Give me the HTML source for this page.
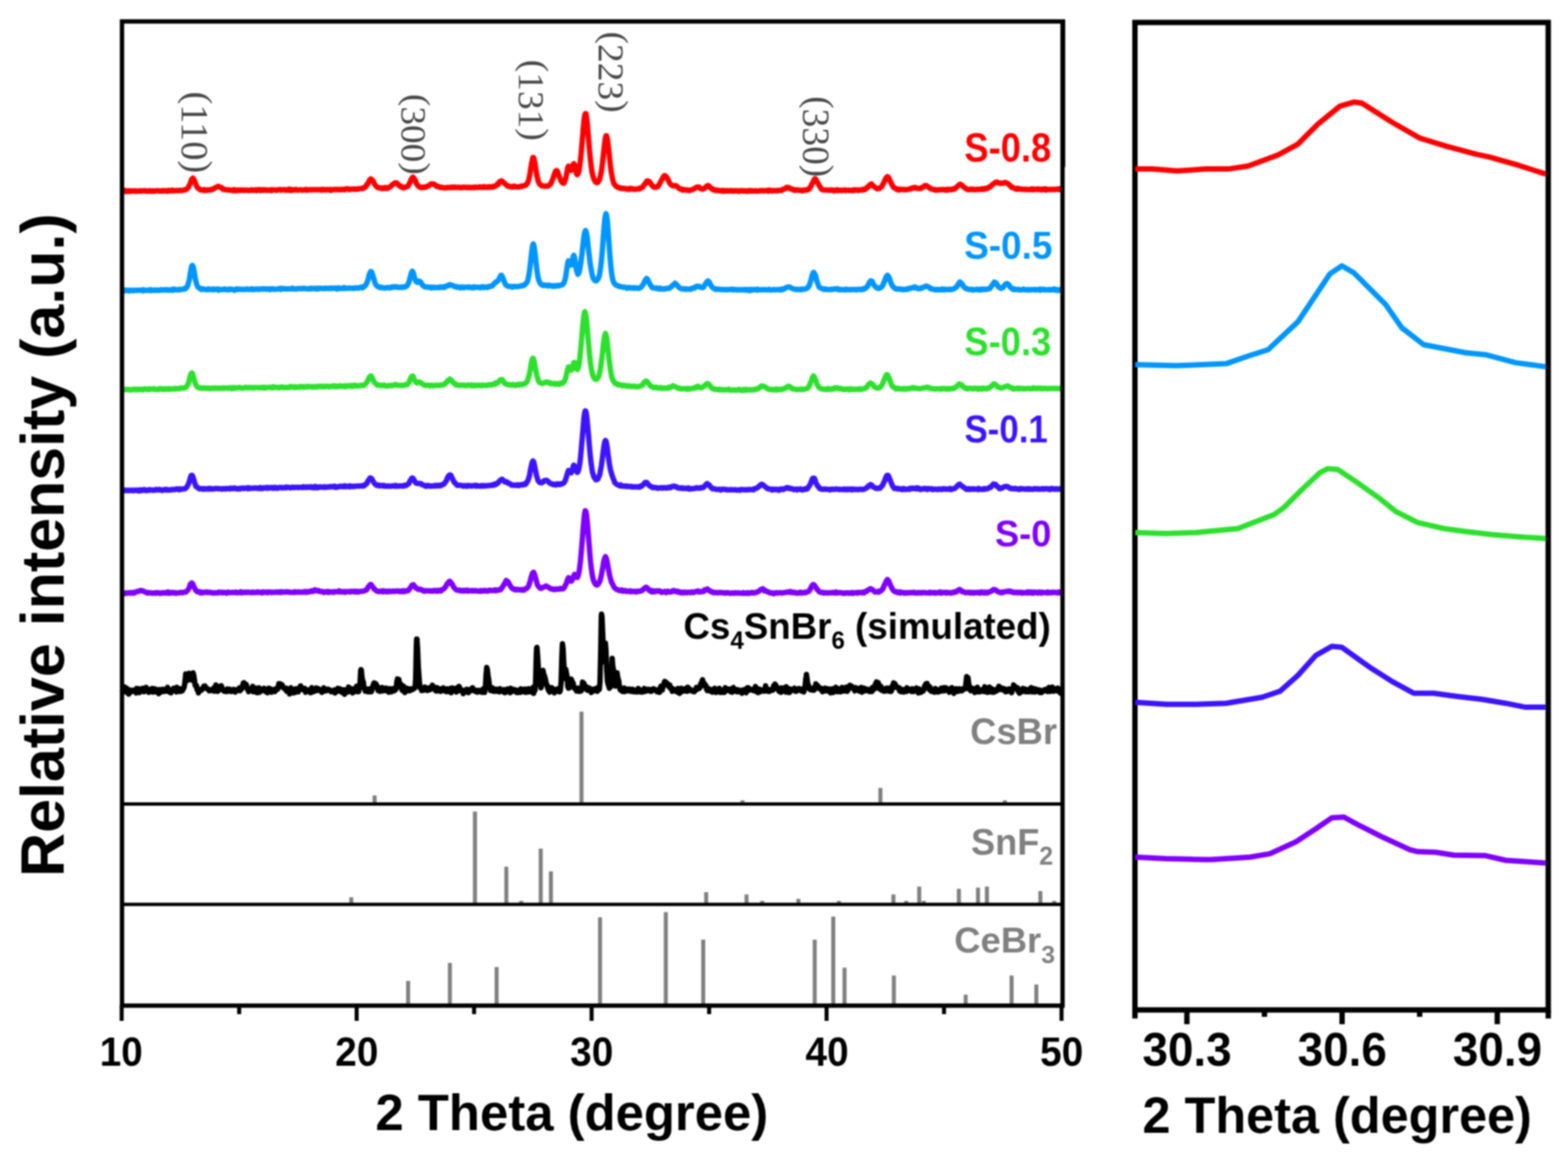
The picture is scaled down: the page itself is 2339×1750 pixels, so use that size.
<!DOCTYPE html>
<html><head><meta charset="utf-8"><style>
html,body{margin:0;padding:0;background:#fff;overflow:hidden;}
svg{display:block;filter:blur(0.8px);}
</style></head><body>
<svg width="2339" height="1750" viewBox="0 0 2339 1750">
<rect width="2339" height="1750" fill="#fff"/>
<g>
<path d="M182,285.7 L183,284.9 L184,285 L185,284.8 L186,285.4 L187,284.3 L188,285.7 L189,284.8 L190,285.2 L191,285 L192,285.6 L193,284.4 L194,285 L195,284.9 L196,285.4 L197,284.7 L198,285 L199,284.7 L200,285 L201,285.2 L202,284.6 L203,285.4 L204,285.3 L205,285.2 L206,285.3 L207,284.7 L208,284.9 L209,284.6 L210,284.8 L211,285.1 L212,284.7 L213,284.8 L214,284.7 L215,284.6 L216,284.6 L217,284.9 L218,284.5 L219,284.9 L220,285.4 L221,285.1 L222,284.8 L223,284.5 L224,284.5 L225,285.4 L226,284.8 L227,284.6 L228,284.8 L229,285.5 L230,284.8 L231,285 L232,284.8 L233,284.6 L234,284.3 L235,284.6 L236,284.6 L237,284.9 L238,285 L239,285 L240,284.7 L241,284.9 L242,284.4 L243,285 L244,284.8 L245,284.5 L246,284.7 L247,284.5 L248,284.9 L249,285.1 L250,285.3 L251,284 L252,284 L253,284.3 L254,284.5 L255,284.8 L256,284.5 L257,283.7 L258,284.3 L259,284.7 L260,284.4 L261,284.6 L262,284.2 L263,284.2 L264,284.3 L265,284.4 L266,284.2 L267,284.2 L268,283.9 L269,284.2 L270,284 L271,284.3 L272,284.3 L273,283.8 L274,283.5 L275,283.3 L276,283.4 L277,283 L278,282.4 L279,281.8 L280,280.5 L281,279.6 L282,277.3 L283,275.6 L284,272.8 L285,270.2 L286,267.3 L287,266.3 L287.6,266.3 L288,265.8 L289,267.2 L290,269.4 L291,271.5 L292,274.7 L293,277.2 L294,278.6 L295,280.5 L296,281 L297,282.1 L298,282.1 L299,283.4 L300,283.3 L301,283.3 L302,283.1 L303,283.9 L304,284.2 L305,282.9 L306,284 L307,284.2 L308,283.7 L309,283.2 L310,283.9 L311,283.5 L312,283.3 L313,282.9 L314,283.4 L315,283.3 L316,282.6 L317,282.6 L318,281.6 L319,281.8 L320,280.9 L321,280.1 L322,279.5 L323,279.2 L324,278.6 L325,278.2 L325.6,278 L326,278 L327,278.5 L328,278.8 L329,279.6 L330,279.9 L331,279.9 L332,281.7 L333,282.7 L334,282.5 L335,282.7 L336,282.9 L337,283.1 L338,283.3 L339,283 L340,283.3 L341,283.2 L342,283.7 L343,283.5 L344,283.8 L345,283.6 L346,284 L347,283.8 L348,284.5 L349,283 L350,283.5 L351,284 L352,284.6 L353,283.6 L354,283.7 L355,283.6 L356,284.2 L357,283.6 L358,283.9 L359,283.6 L360,283.2 L361,283.8 L362,283.9 L363,284.1 L364,283.6 L365,283.5 L366,283.9 L367,283.7 L368,283.7 L369,283.6 L370,284 L371,283.8 L372,284.3 L373,284 L374,283.8 L375,283 L376,283.8 L377,283.7 L378,283.9 L379,284 L380,283.4 L381,283.9 L382,283.4 L383,284.2 L384,283.1 L385,282.9 L386,283 L387,283.2 L388,283.1 L389,284.2 L390,283.4 L391,283 L392,283.9 L393,283.3 L394,283 L395,283.8 L396,283.7 L397,283.3 L398,283.9 L399,283.5 L400,284 L401,283.6 L402,284 L403,283.5 L404,283 L405,284.3 L406,283.2 L407,283.3 L408,283.2 L409,283.3 L410,283.5 L411,283.5 L412,283.6 L413,284 L414,283.3 L415,282.9 L416,282.9 L417,283.1 L418,282.8 L419,283.6 L420,283.2 L421,283.2 L422,283.3 L423,282.8 L424,283 L425,283.6 L426,283.5 L427,283.2 L428,283.9 L429,282.8 L430,283.2 L431,283.2 L432,282.3 L433,284 L434,283.4 L435,282.9 L436,284 L437,283.5 L438,283.4 L439,283 L440,283.3 L441,282.7 L442,283.5 L443,283.1 L444,283.3 L445,283.6 L446,283.3 L447,283.3 L448,283.3 L449,282.9 L450,283.5 L451,283.7 L452,283.4 L453,283.5 L454,282.9 L455,282.9 L456,282.6 L457,283.6 L458,283.1 L459,283.6 L460,282.9 L461,283 L462,283.2 L463,283.4 L464,283.1 L465,283.2 L466,283.1 L467,283.2 L468,282.7 L469,283.1 L470,283 L471,283 L472,283.2 L473,282.8 L474,283 L475,282.9 L476,283.2 L477,283.3 L478,282.7 L479,283.2 L480,283.7 L481,282.5 L482,282.7 L483,282.7 L484,282.9 L485,283.6 L486,283 L487,282.7 L488,283.2 L489,282.7 L490,283.3 L491,283.1 L492,283.4 L493,282.7 L494,284 L495,283.2 L496,283.1 L497,282.9 L498,282.6 L499,282.6 L500,282.8 L501,282.6 L502,282.9 L503,282.5 L504,283 L505,283.1 L506,282.5 L507,283.1 L508,282.6 L509,283.1 L510,282.8 L511,283 L512,282.3 L513,282.5 L514,283.1 L515,282.3 L516,281.8 L517,281.8 L518,281.6 L519,281.7 L520,282.3 L521,282.8 L522,282.2 L523,282.4 L524,282.2 L525,282.3 L526,282.2 L527,282.1 L528,282.3 L529,281.7 L530,282.4 L531,282.3 L532,281.9 L533,282.2 L534,281.6 L535,281.6 L536,281.8 L537,281.6 L538,281.4 L539,281.2 L540,281.1 L541,281.4 L542,280.1 L543,280.5 L544,279.7 L545,279.2 L546,278.1 L547,275.6 L548,275.1 L549,273.2 L550,271.2 L551,269.2 L552,268.2 L553,266.9 L553.4,267.6 L554,267.3 L555,268.8 L556,269.3 L557,270.8 L558,273.5 L559,275.3 L560,276.5 L561,277.2 L562,278.6 L563,279.6 L564,279.8 L565,280.2 L566,280.4 L567,280.3 L568,280.5 L569,280.2 L570,281.4 L571,280.6 L572,280.9 L573,280.4 L574,281 L575,280 L576,280.9 L577,280.4 L578,281 L579,279.5 L580,279.7 L581,279.3 L582,279.1 L583,277.8 L584,277.2 L585,275.5 L586,275 L587,274.6 L588,274 L589,273 L589.8,273.7 L590,273.6 L591,273.2 L592,273 L593,274 L594,275.2 L595,276.7 L596,277.3 L597,277.1 L598,278.3 L599,279.4 L600,279.1 L601,279.2 L602,280.3 L603,279.6 L604,279.3 L605,279.5 L606,279 L607,278.4 L608,278.2 L609,277 L610,275.4 L611,273.2 L612,271.3 L613,268.5 L614,266.5 L615,265 L616,264.3 L617,265.2 L618,266.4 L619,267.9 L620,270.5 L621,273.6 L622,274.9 L623,276.6 L624,277.3 L625,278.7 L626,278.7 L627,279.7 L628,279.2 L629,279.9 L630,279.8 L631,279.3 L632,279.9 L633,279.1 L634,279 L635,279.3 L636,278.5 L637,278.2 L638,277.7 L639,276.9 L640,277 L641,276.1 L642,275.2 L643,274.5 L644,274.3 L645,274.6 L646,274.5 L647,274.4 L648,275.4 L649,275.8 L650,276.5 L651,277.9 L652,277.7 L653,278.2 L654,278.1 L655,278.6 L656,279.5 L657,279.2 L658,279.8 L659,279.3 L660,279.5 L661,280 L662,280.3 L663,280 L664,280.2 L665,280.4 L666,280.2 L667,279.5 L668,279.8 L669,280 L670,279.7 L671,280 L672,279.3 L673,279.5 L674,280 L675,279 L676,279.4 L677,279.8 L678,279.1 L679,279.8 L680,279.4 L681,279.6 L682,279.6 L683,279.8 L684,279.5 L685,279.7 L686,279.4 L687,279.8 L688,280.2 L689,279.7 L690,279.7 L691,279.2 L692,279.8 L693,279.3 L694,279.2 L695,279.7 L696,279.6 L697,279.9 L698,280 L699,279.3 L700,279.5 L701,280 L702,279.8 L703,279.7 L704,279.9 L705,279.2 L706,279.6 L707,279.9 L708,280 L709,279.1 L710,279.3 L711,279.5 L712,279.3 L713,279.2 L714,279.6 L715,279.2 L716,278.7 L717,279.5 L718,279.2 L719,279.1 L720,278.7 L721,279.6 L722,278.5 L723,278.7 L724,279.1 L725,279.6 L726,279.6 L727,278.8 L728,279.1 L729,278.6 L730,279.4 L731,278.5 L732,278.9 L733,279.2 L734,278.7 L735,279.1 L736,278.1 L737,278.3 L738,278.1 L739,277.2 L740,277.1 L741,276 L742,274.4 L743,275.3 L744,273.1 L745,271.8 L746,270.4 L747,270.3 L748,269.8 L749,270.4 L750,271 L751,272.4 L752,272.8 L753,274 L754,274.9 L755,275.7 L756,276.4 L757,277.5 L758,277.8 L759,277.7 L760,277.8 L761,278.3 L762,278.8 L763,278.5 L764,279.2 L765,278.3 L766,278.6 L767,277.7 L768,278.4 L769,278.5 L770,278.7 L771,279.1 L772,278.5 L773,278.9 L774,278.6 L775,278.6 L776,278 L777,278.6 L778,277.6 L779,278 L780,277.4 L781,277.3 L782,276.8 L783,276.7 L784,276.5 L785,275.6 L786,274 L787,273.3 L788,270.3 L789,267.1 L790,262.4 L791,256.3 L792,249.6 L793,243.6 L794,239 L795,235.1 L795.5,235.3 L796,235.2 L797,238.7 L798,243.3 L799,250.7 L800,256.6 L801,262.5 L802,266.8 L803,270.5 L804,272.8 L805,274.8 L806,275.2 L807,276.1 L808,277.2 L809,277.2 L810,277.4 L811,277.5 L812,277.9 L813,277.5 L814,277.9 L815,277.4 L816,277.4 L817,277.7 L818,277.4 L819,276.2 L820,276.1 L821,274.4 L822,273.6 L823,270.7 L824,268.6 L825,265.9 L826,262.9 L827,260.2 L828,257.2 L829,255.3 L830,254.4 L831,254.6 L832,256.5 L833,259.8 L834,262.5 L835,265.4 L836,267.7 L837,270.3 L838,271 L839,272.9 L840,273.1 L841,273.4 L842,271.7 L843,269.3 L844,266.1 L845,260.4 L846,255.4 L847,249.8 L848,248 L849,248.8 L850,251.4 L851,253.1 L852,254.1 L853,252.4 L854,248.9 L855,245.5 L856,244.2 L857,245.9 L858,249.6 L859,254.2 L860,259.1 L861,260.7 L862,259.2 L863,257.4 L864,252.9 L865,246.5 L866,237.9 L867,227.6 L868,216.6 L869,204.4 L870,192.7 L871,181.8 L872,173.6 L873,169.7 L873.4,169.4 L874,169.5 L875,175 L876,183.8 L877,195.7 L878,207.4 L879,220 L880,230.6 L881,240.6 L882,248.5 L883,256.2 L884,260.8 L885,264.4 L886,267.6 L887,269 L888,271.1 L889,272 L890,272.4 L891,272.6 L892,271.4 L893,270.6 L894,268.4 L895,265.3 L896,260.5 L897,256.2 L898,248.8 L899,240.9 L900,231.4 L901,222.5 L902,213.6 L903,206.4 L904,202.4 L904.5,202.4 L905,202.9 L906,207.1 L907,215.3 L908,223.1 L909,232.9 L910,242 L911,250.9 L912,257.7 L913,262.8 L914,267.8 L915,271.6 L916,274.3 L917,275.2 L918,276.8 L919,277.8 L920,278.3 L921,279.2 L922,279.5 L923,279.9 L924,279.9 L925,280.9 L926,280.6 L927,281.2 L928,280.8 L929,281.3 L930,281 L931,281 L932,281.2 L933,281.6 L934,281.6 L935,282.3 L936,281.4 L937,281.5 L938,282.5 L939,282.2 L940,281.3 L941,282.2 L942,282.2 L943,281.3 L944,282 L945,282.1 L946,282.4 L947,282.5 L948,282.1 L949,282.5 L950,282 L951,281.7 L952,281.6 L953,281.9 L954,280.8 L955,281.5 L956,280.4 L957,280.1 L958,279.7 L959,279 L960,276.7 L961,275.8 L962,274.6 L963,272.9 L964,272.1 L965,270 L966,270.2 L966.5,270.1 L967,270.1 L968,271 L969,271.2 L970,273.4 L971,274.1 L972,276 L973,276.8 L974,278.2 L975,279 L976,278.7 L977,279.4 L978,279.4 L979,279.1 L980,278.4 L981,278.6 L982,276.9 L983,276.1 L984,273.8 L985,271.9 L986,270.4 L987,268.1 L988,267.2 L989,264.6 L990,263.5 L991,262.1 L991.8,261.9 L992,262 L993,262.7 L994,264 L995,265.2 L996,266.9 L997,268.8 L998,271.1 L999,273.1 L1000,274.6 L1001,275.6 L1002,276.3 L1003,277 L1004,277.4 L1005,277.1 L1006,277 L1007,276.8 L1008,277.3 L1009,277.3 L1010,278.2 L1011,279.2 L1012,280.1 L1013,281.2 L1014,281.6 L1015,282.1 L1016,281.8 L1017,282.9 L1018,283.7 L1019,282.7 L1020,282.8 L1021,283.1 L1022,283.6 L1023,283.5 L1024,283.2 L1025,283.4 L1026,283.8 L1027,283.7 L1028,284.3 L1029,283.8 L1030,283.5 L1031,283.5 L1032,283 L1033,282.5 L1034,282.6 L1035,282.2 L1036,281 L1037,280.6 L1038,280 L1039,279.6 L1040,279 L1040.7,279.2 L1041,279 L1042,279.7 L1043,279.2 L1044,281 L1045,281.5 L1046,281.5 L1047,282.1 L1048,282.1 L1049,281.5 L1050,281.4 L1051,280.9 L1052,279.9 L1053,279.2 L1054,277.9 L1055,277.3 L1056,276.7 L1057,277.2 L1058,277.9 L1059,279.6 L1060,280.2 L1061,280.8 L1062,282.1 L1063,282.6 L1064,282.1 L1065,283.7 L1066,283.2 L1067,284.1 L1068,283.7 L1069,283.6 L1070,284.4 L1071,283.7 L1072,284.1 L1073,284.4 L1074,284.6 L1075,284.6 L1076,284.4 L1077,284.1 L1078,285.1 L1079,284.3 L1080,285.1 L1081,284.4 L1082,285 L1083,284.9 L1084,284.2 L1085,284.7 L1086,284.9 L1087,284.9 L1088,284.6 L1089,284.8 L1090,284.5 L1091,284.3 L1092,285 L1093,284.5 L1094,285.2 L1095,285 L1096,284.4 L1097,284.7 L1098,284.7 L1099,284.5 L1100,285 L1101,284.6 L1102,285.4 L1103,285.1 L1104,284.5 L1105,284.8 L1106,284.7 L1107,284.2 L1108,285.1 L1109,285.1 L1110,285.1 L1111,284.6 L1112,285.1 L1113,284.7 L1114,285.1 L1115,285.4 L1116,284.8 L1117,284.2 L1118,284.6 L1119,285 L1120,285.2 L1121,284.3 L1122,284.7 L1123,284.8 L1124,284.9 L1125,285 L1126,284.4 L1127,284.5 L1128,285 L1129,284.8 L1130,284.8 L1131,285.1 L1132,284.7 L1133,284.8 L1134,284.5 L1135,284.2 L1136,284.2 L1137,284.7 L1138,284.6 L1139,284.4 L1140,284.7 L1141,284.3 L1142,284.6 L1143,284.6 L1144,284.3 L1145,283.8 L1146,285.1 L1147,284.7 L1148,283.6 L1149,284.4 L1150,284.7 L1151,284.4 L1152,284.7 L1153,284.1 L1154,284.5 L1155,284.4 L1156,284.4 L1157,284.3 L1158,284.4 L1159,284.7 L1160,284.1 L1161,284.1 L1162,284.3 L1163,284.1 L1164,284.1 L1165,284.1 L1166,284.1 L1167,283.3 L1168,282.2 L1169,282.5 L1170,282.2 L1171,281.5 L1172,281 L1173,279.7 L1174,280.4 L1175,279.9 L1175.4,279.5 L1176,279.7 L1177,279.9 L1178,280.8 L1179,281.3 L1180,282.1 L1181,282.3 L1182,282 L1183,282.4 L1184,283.6 L1185,284 L1186,283.5 L1187,284 L1188,283.3 L1189,283.2 L1190,283.5 L1191,283.8 L1192,283.8 L1193,283.9 L1194,283.7 L1195,284.1 L1196,284.4 L1197,283.8 L1198,284.5 L1199,283.5 L1200,283.5 L1201,283.7 L1202,283.3 L1203,283.7 L1204,282.8 L1205,283.1 L1206,282.1 L1207,282.2 L1208,280.1 L1209,278.9 L1210,277.3 L1211,274.5 L1212,273.3 L1213,271.1 L1214,269 L1215,267 L1216,266.5 L1217,267.7 L1218,269.3 L1219,271.4 L1220,272.8 L1221,274.9 L1222,277.1 L1223,278.2 L1224,280 L1225,281.6 L1226,282.6 L1227,282.6 L1228,283.5 L1229,283.3 L1230,283.4 L1231,283.4 L1232,283.6 L1233,283.5 L1234,283.6 L1235,283.5 L1236,283.8 L1237,283.8 L1238,283.3 L1239,283.8 L1240,283.6 L1241,283.2 L1242,284.1 L1243,284.4 L1244,284.7 L1245,284.5 L1246,283.6 L1247,284.3 L1248,284.3 L1249,283.2 L1250,284.2 L1251,284.2 L1252,284 L1253,284 L1254,284 L1255,284.5 L1256,283.8 L1257,283.9 L1258,283.9 L1259,284 L1260,283.3 L1261,284.4 L1262,284 L1263,284.1 L1264,284 L1265,283.8 L1266,283.8 L1267,283.9 L1268,283.9 L1269,284.2 L1270,284 L1271,283.8 L1272,284.5 L1273,283.3 L1274,283.3 L1275,283.9 L1276,283.7 L1277,283.1 L1278,283.6 L1279,283.4 L1280,284 L1281,283.4 L1282,283.9 L1283,283.7 L1284,283.4 L1285,283.4 L1286,283.4 L1287,282.4 L1288,283.1 L1289,282.6 L1290,283 L1291,281.7 L1292,281.7 L1293,279.7 L1294,279.9 L1295,278.7 L1296,277.4 L1297,276.3 L1298,275.4 L1299,275.2 L1299.4,275 L1300,274.4 L1301,275.5 L1302,277.2 L1303,277.4 L1304,278.5 L1305,279.2 L1306,280.2 L1307,280.8 L1308,281.1 L1309,281.7 L1310,281.2 L1311,281.3 L1312,281.2 L1313,280.4 L1314,279.3 L1315,278.9 L1316,277 L1317,275.4 L1318,273.3 L1319,271.3 L1320,268.9 L1321,266.7 L1322,265.2 L1323,264.4 L1323.8,263.4 L1324,263.7 L1325,264.1 L1326,265.7 L1327,268.1 L1328,270.1 L1329,272.1 L1330,274.2 L1331,276.2 L1332,278 L1333,279.6 L1334,279.8 L1335,280.7 L1336,281.3 L1337,281.4 L1338,282.7 L1339,282.4 L1340,283.3 L1341,282.2 L1342,283.2 L1343,282.6 L1344,282.7 L1345,282.6 L1346,282.6 L1347,282.5 L1348,283.1 L1349,282.5 L1350,282.9 L1351,282.9 L1352,283.1 L1353,282.8 L1354,282.7 L1355,282.6 L1356,282.2 L1357,282.1 L1358,281.3 L1359,281 L1360,281.5 L1361,280.5 L1362,280 L1363,280.5 L1363.6,279.9 L1364,279.8 L1365,279.6 L1366,280.6 L1367,280.2 L1368,280.6 L1369,281.3 L1370,281.2 L1371,281.2 L1372,281 L1373,281.2 L1374,281.2 L1375,279.7 L1376,279.5 L1377,279.3 L1378,278.4 L1379,277.2 L1380,276.9 L1380.8,276.8 L1381,276.7 L1382,277 L1383,277.8 L1384,278.1 L1385,279.4 L1386,279.8 L1387,280.3 L1388,281.4 L1389,281.7 L1390,282 L1391,282.6 L1392,282.7 L1393,282.6 L1394,283.1 L1395,283 L1396,283.9 L1397,283.3 L1398,283.4 L1399,283.5 L1400,283.1 L1401,283.5 L1402,283 L1403,282.8 L1404,282.9 L1405,283.2 L1406,282.5 L1407,283.1 L1408,282.8 L1409,283.3 L1410,282.8 L1411,283.7 L1412,283.2 L1413,282.5 L1414,283.6 L1415,282.8 L1416,282.6 L1417,282.5 L1418,283 L1419,283.2 L1420,282.4 L1421,282.1 L1422,281.8 L1423,282.4 L1424,282 L1425,280.7 L1426,280.3 L1427,279.2 L1428,278.2 L1429,277.5 L1430,276.3 L1431,275.5 L1432,274.9 L1432.3,275.3 L1433,275 L1434,275.7 L1435,276.6 L1436,277.1 L1437,278.4 L1438,279.4 L1439,280.3 L1440,280.6 L1441,281.1 L1442,282.4 L1443,282.5 L1444,282.6 L1445,283.1 L1446,282.7 L1447,282.5 L1448,282.8 L1449,282 L1450,282.3 L1451,282.9 L1452,282.7 L1453,282.2 L1454,282.9 L1455,283 L1456,282.9 L1457,282.6 L1458,282.3 L1459,282.6 L1460,282.7 L1461,282.4 L1462,282.7 L1463,282.5 L1464,282.5 L1465,281.6 L1466,282.6 L1467,282.7 L1468,281.8 L1469,281.3 L1470,281.8 L1471,281.2 L1472,280.7 L1473,281.1 L1474,279.7 L1475,279.9 L1476,278.6 L1477,278.9 L1478,277.8 L1479,276.7 L1480,275.9 L1481,275.2 L1482,274.4 L1483,273.7 L1484,272.9 L1485,272.1 L1486,272.2 L1487,271.5 L1488,272.4 L1489,272.6 L1490,273.1 L1491,272.8 L1492,273.3 L1493,273.7 L1494,273.5 L1495,273.2 L1496,273.3 L1497,272.9 L1498,273 L1499,272.2 L1500,272.5 L1501,272.6 L1502,273.2 L1503,273.5 L1504,274.3 L1505,275.2 L1506,276.2 L1507,277.1 L1508,277.8 L1509,279.7 L1510,279.2 L1511,279.6 L1512,280.3 L1513,280.7 L1514,281.3 L1515,282 L1516,282.3 L1517,282 L1518,281.1 L1519,282.2 L1520,281.7 L1521,282 L1522,281.8 L1523,282.4 L1524,282.1 L1525,282.6 L1526,282.5 L1527,282.3 L1528,282.4 L1529,282.7 L1530,282.3 L1531,282.8 L1532,282.4 L1533,282.6 L1534,282.8 L1535,282.9 L1536,282.7 L1537,282.5 L1538,282.8 L1539,282 L1540,283.1 L1541,282 L1542,282.8 L1543,282.3 L1544,282.7 L1545,282.5 L1546,282.6 L1547,282.2 L1548,281.8 L1549,282.7 L1550,282.3 L1551,282.3 L1552,282.3 L1553,283.2 L1554,282.3 L1555,282.6 L1556,282.1 L1557,283 L1558,282.3 L1559,281.6 L1560,283.5 L1561,282.1 L1562,283 L1563,282.8 L1564,282.7 L1565,282.4 L1566,282.6 L1567,282.9 L1568,282.4 L1569,282.6 L1570,282.8 L1571,282.5 L1572,282.3 L1573,283 L1574,282.6 L1575,282.4 L1576,282.2 L1577,282.1 L1578,282.8 L1579,282.8 L1580,281.7 L1581,282.2 L1582,282.8 L1583,283.3 L1584,283.2 L1585,282.8" fill="none" stroke="#ff0000" stroke-width="8" stroke-linejoin="round" stroke-linecap="butt"/>
<path d="M182,433.3 L183,433.4 L184,432.7 L185,434 L186,432.8 L187,433.1 L188,433.6 L189,433 L190,433 L191,433.1 L192,433.6 L193,434.2 L194,433.4 L195,432.9 L196,433.5 L197,433.1 L198,433.3 L199,433.7 L200,433 L201,433.3 L202,432.9 L203,433.2 L204,433.3 L205,432.9 L206,433.1 L207,433.1 L208,433 L209,432.8 L210,432.7 L211,433.1 L212,433 L213,433.9 L214,432.3 L215,433.1 L216,433.2 L217,433.6 L218,433.2 L219,432.8 L220,433 L221,433.2 L222,432.9 L223,433.3 L224,432.3 L225,433.6 L226,433.5 L227,432.8 L228,433.2 L229,433 L230,432.6 L231,432.9 L232,433.3 L233,432.8 L234,432.7 L235,432.8 L236,433 L237,433.3 L238,432.6 L239,433 L240,432.9 L241,432.1 L242,432.6 L243,432.7 L244,432.7 L245,432.8 L246,432 L247,432.7 L248,432.4 L249,432.1 L250,432.8 L251,432.9 L252,432.4 L253,432.9 L254,432.4 L255,432.5 L256,432.1 L257,433 L258,431.5 L259,432.4 L260,432.6 L261,431.6 L262,432.2 L263,432.2 L264,432.5 L265,432.6 L266,432 L267,431.6 L268,432.4 L269,432.3 L270,431.6 L271,431.8 L272,431.7 L273,431.6 L274,431.3 L275,431.5 L276,430 L277,430.5 L278,429.4 L279,427.9 L280,426.4 L281,422.2 L282,419.3 L283,413.7 L284,407.2 L285,401.7 L286,396.7 L287,395.9 L288,397.4 L289,401.6 L290,407.2 L291,413.3 L292,418.7 L293,422.7 L294,425.6 L295,427.7 L296,429 L297,429.7 L298,430.2 L299,430.4 L300,431.9 L301,430.6 L302,430.9 L303,431.5 L304,431.3 L305,431.7 L306,431.9 L307,432.1 L308,431.9 L309,431.4 L310,432.1 L311,431.1 L312,431.7 L313,431.6 L314,431.4 L315,432 L316,431.8 L317,432.2 L318,431.3 L319,432.2 L320,432 L321,431.9 L322,431.4 L323,431.8 L324,431.3 L325,431.1 L326,433 L327,432.2 L328,432.5 L329,431.7 L330,432.1 L331,432.1 L332,432.1 L333,431.8 L334,431.8 L335,431.1 L336,432 L337,432 L338,432.2 L339,431.7 L340,432.4 L341,431.6 L342,431.3 L343,432.1 L344,431.6 L345,431.3 L346,431.8 L347,432 L348,431.8 L349,431.9 L350,433.2 L351,432 L352,432.2 L353,431 L354,431.8 L355,431.9 L356,431.5 L357,431.3 L358,431.8 L359,431.5 L360,431.4 L361,432 L362,432.1 L363,431.7 L364,431.4 L365,431.8 L366,431.9 L367,431.8 L368,431 L369,431.4 L370,431.7 L371,431.7 L372,431.9 L373,431.8 L374,431.1 L375,431.2 L376,431.1 L377,432.1 L378,431.5 L379,431.6 L380,431.8 L381,431.3 L382,431 L383,431.3 L384,431.3 L385,431.9 L386,431.7 L387,431 L388,431.6 L389,431.6 L390,431 L391,431.3 L392,430.7 L393,431.4 L394,431.2 L395,430.8 L396,431 L397,431.4 L398,431.1 L399,431.4 L400,431.4 L401,430.9 L402,431.1 L403,432 L404,431.2 L405,430.9 L406,431.2 L407,430.7 L408,431.6 L409,431.3 L410,431.5 L411,431.4 L412,431.3 L413,431.5 L414,431.2 L415,430.9 L416,430.7 L417,430.9 L418,430.2 L419,431.7 L420,430.4 L421,431 L422,430.6 L423,430.3 L424,431 L425,430.9 L426,430.9 L427,431.2 L428,430.7 L429,431.1 L430,431.1 L431,430.8 L432,430.8 L433,431.1 L434,430.9 L435,430.9 L436,430 L437,430.9 L438,431 L439,430.8 L440,431 L441,431.5 L442,430.8 L443,431 L444,430.5 L445,430.5 L446,430.6 L447,430.4 L448,430.7 L449,430.4 L450,430.7 L451,430.2 L452,430.1 L453,430.5 L454,430.3 L455,430.4 L456,430.4 L457,430.5 L458,431 L459,431.1 L460,430.9 L461,430.5 L462,431.1 L463,430.1 L464,429.9 L465,430.7 L466,430.6 L467,430.5 L468,430.5 L469,429.9 L470,430.1 L471,430.9 L472,430.8 L473,430.2 L474,431.1 L475,430.1 L476,430.2 L477,430.5 L478,430 L479,430.2 L480,430.3 L481,430.2 L482,430.7 L483,430.6 L484,430 L485,430.1 L486,430.4 L487,430.3 L488,430 L489,430.4 L490,430.6 L491,430 L492,430.5 L493,429.7 L494,429.7 L495,430.4 L496,429.9 L497,429.8 L498,430.1 L499,429.9 L500,430.3 L501,429.6 L502,430 L503,431.2 L504,430.1 L505,429.4 L506,430.3 L507,430.3 L508,430.5 L509,430.1 L510,429.8 L511,430.5 L512,430.2 L513,429.3 L514,430.2 L515,429.8 L516,430.3 L517,429.8 L518,430.1 L519,429.9 L520,430 L521,429.8 L522,429.6 L523,429.8 L524,430 L525,429.9 L526,430.2 L527,429.8 L528,429.8 L529,430.3 L530,429.6 L531,429.7 L532,429.3 L533,429.4 L534,429.9 L535,429.4 L536,429.7 L537,428.8 L538,428.6 L539,429 L540,428.3 L541,429.5 L542,428.7 L543,427.3 L544,427 L545,425.9 L546,424.7 L547,422.5 L548,420.2 L549,417.3 L550,413.1 L551,409.3 L552,407 L553,405.1 L553.4,405.4 L554,405.3 L555,407.5 L556,410.4 L557,413.8 L558,417.2 L559,420.7 L560,423.8 L561,425.1 L562,426.1 L563,427.4 L564,427.8 L565,427.7 L566,428.5 L567,429.1 L568,428.6 L569,428.4 L570,429.1 L571,429.6 L572,429.4 L573,429.4 L574,429.9 L575,429.7 L576,429.4 L577,429.1 L578,429.2 L579,429.1 L580,429.4 L581,428.8 L582,429.6 L583,429 L584,428.7 L585,429 L586,427.8 L587,428 L588,427.9 L589,428.3 L589.8,427.8 L590,428.5 L591,427.9 L592,428.3 L593,428 L594,428.8 L595,428.5 L596,428.8 L597,428.5 L598,428.3 L599,428.6 L600,429 L601,428.2 L602,427.9 L603,428.2 L604,428.4 L605,427.4 L606,427.1 L607,426.5 L608,425 L609,423.3 L610,420.9 L611,417.1 L612,413.2 L613,409.6 L614,406.2 L615,404.7 L616,405.7 L617,408.5 L618,413.1 L619,415.9 L620,418.8 L621,420.6 L622,420.8 L623,421.3 L624,420.4 L625,419.3 L626,419.9 L627,420.2 L628,421.6 L629,423.3 L630,425.4 L631,425.6 L632,426.7 L633,427.6 L634,428 L635,428.2 L636,428.1 L637,428.2 L638,428.6 L639,428.3 L640,428.5 L641,428.4 L642,429.2 L643,428.4 L644,429.6 L645,428.7 L646,428.6 L647,428.5 L648,429.2 L649,429.3 L650,428.7 L651,429.1 L652,428.9 L653,428.8 L654,429 L655,429.2 L656,428.2 L657,428.1 L658,428.9 L659,428.7 L660,428.9 L661,427.9 L662,428 L663,428.7 L664,427.4 L665,427.7 L666,426.9 L667,426.6 L668,425.8 L669,426.2 L670,424.7 L671,424.7 L672,424.7 L673,425.5 L674,425.5 L675,426 L676,426.2 L677,426.8 L678,427.3 L679,428 L680,427.9 L681,427.6 L682,428.7 L683,428.5 L684,428.2 L685,428.6 L686,428.4 L687,429.5 L688,428.7 L689,428.1 L690,428.9 L691,428.5 L692,429.3 L693,428.9 L694,428.2 L695,428.6 L696,428.4 L697,428.6 L698,428.6 L699,428.1 L700,428.9 L701,428.5 L702,428.5 L703,429.1 L704,429.4 L705,428.6 L706,429.4 L707,428 L708,428.9 L709,428.5 L710,428.7 L711,428.4 L712,428.5 L713,428.6 L714,428.5 L715,428.8 L716,429.4 L717,428.4 L718,428.5 L719,427.9 L720,427.7 L721,429 L722,428 L723,428.2 L724,428.4 L725,428.7 L726,428.4 L727,428.9 L728,428.1 L729,427.4 L730,427.9 L731,427.7 L732,427 L733,426.8 L734,426.1 L735,426.2 L736,424.5 L737,423.2 L738,422.8 L739,421.1 L740,421.1 L741,420.5 L742,419.3 L743,418.3 L744,416.7 L745,415.6 L746,413.1 L747,411 L748,410.6 L749,412 L750,414.3 L751,416.8 L752,419.9 L753,422 L754,424.3 L755,425.4 L756,426.1 L757,426.8 L758,426.7 L759,427.6 L760,427.5 L761,427.3 L762,427.6 L763,427.4 L764,428.4 L765,427.4 L766,427.8 L767,427.7 L768,427.3 L769,427.5 L770,427.3 L771,427.5 L772,427.4 L773,427.5 L774,427.4 L775,426.9 L776,426.8 L777,426.6 L778,426.3 L779,425.8 L780,426.4 L781,425.9 L782,425.4 L783,424.4 L784,423.7 L785,422.2 L786,421.3 L787,419.1 L788,415.3 L789,410 L790,403 L791,395.3 L792,386.2 L793,377.3 L794,369.5 L795,364.5 L795.5,364 L796,364.8 L797,369.3 L798,376.9 L799,385.3 L800,394.9 L801,403.5 L802,409.9 L803,415.2 L804,418.5 L805,421.1 L806,423 L807,424.1 L808,424.7 L809,425.4 L810,425.8 L811,426 L812,425.1 L813,425.6 L814,425.8 L815,425.8 L816,425.4 L817,426.5 L818,425.8 L819,426.3 L820,425.5 L821,426.3 L822,426.4 L823,426.2 L824,426.8 L825,427.4 L826,426.3 L827,426.2 L828,427.1 L829,426.6 L830,426.2 L831,425.8 L832,426.5 L833,426.2 L834,426.5 L835,425.5 L836,425.6 L837,425.3 L838,424.9 L839,424.9 L840,424 L841,422.1 L842,420.1 L843,416.5 L844,411.9 L845,405.2 L846,397.9 L847,392.1 L848,389 L849,390 L850,393 L851,395.5 L852,395.4 L853,392.3 L854,387.9 L855,382.8 L856,380.8 L857,383.9 L858,390.3 L859,397.6 L860,403.1 L861,406.8 L862,409.2 L863,408 L864,405.9 L865,400.7 L866,394.9 L867,387.2 L868,380.2 L869,370.4 L870,361.6 L871,353.4 L872,347.4 L873,344.6 L873.4,344 L874,344.7 L875,349 L876,354.8 L877,364 L878,373.2 L879,381.2 L880,390.1 L881,396.9 L882,402.7 L883,408.1 L884,412.4 L885,415.4 L886,416.9 L887,418.1 L888,418.9 L889,419 L890,418.8 L891,417.3 L892,416.5 L893,414.1 L894,411.3 L895,405.8 L896,398.7 L897,390.1 L898,379.6 L899,367.1 L900,353.5 L901,340.9 L902,329.7 L903,321.8 L904,318.7 L905,321.8 L906,330.4 L907,342.5 L908,356.4 L909,370.1 L910,383.5 L911,394.6 L912,404.9 L913,412 L914,416.6 L915,420.3 L916,422.4 L917,423.3 L918,424.8 L919,425.1 L920,425.9 L921,425.8 L922,426.7 L923,427.2 L924,427.1 L925,427.5 L926,427.6 L927,428.1 L928,428.2 L929,428.6 L930,428.6 L931,428.3 L932,428.4 L933,428.8 L934,429.2 L935,430 L936,429.6 L937,429.1 L938,428.7 L939,429.7 L940,429.5 L941,429.2 L942,429.9 L943,429.7 L944,429.6 L945,429 L946,430.1 L947,429.8 L948,429.7 L949,429.4 L950,429.6 L951,430.1 L952,429.8 L953,430.2 L954,429.6 L955,429.1 L956,428.8 L957,427.7 L958,426.1 L959,425 L960,423.5 L961,421.1 L962,419.1 L963,417 L964,416.8 L964.7,415.5 L965,415.7 L966,416.6 L967,419 L968,421.1 L969,422.6 L970,425 L971,426.1 L972,427.6 L973,429.5 L974,429.5 L975,429.6 L976,429.5 L977,430 L978,429.8 L979,429.6 L980,430.7 L981,430.7 L982,430.6 L983,431 L984,430.1 L985,431.2 L986,430.3 L987,430.9 L988,430.9 L989,431.1 L990,431.5 L991,430.9 L992,430.6 L993,430.3 L994,430.8 L995,430.3 L996,430.1 L997,430.3 L998,430.3 L999,429.6 L1000,428.8 L1001,428.4 L1002,427 L1003,425.8 L1004,425.6 L1005,424.1 L1006,423.9 L1006.9,422.5 L1007,423.4 L1008,423.3 L1009,425.2 L1010,425.3 L1011,426.5 L1012,427.9 L1013,428.8 L1014,429.3 L1015,430.3 L1016,430.6 L1017,431 L1018,431 L1019,430.7 L1020,430.8 L1021,431.3 L1022,430.8 L1023,431.7 L1024,431.2 L1025,430.9 L1026,431.5 L1027,431.2 L1028,431.6 L1029,431.2 L1030,431.7 L1031,430.8 L1032,430.1 L1033,430.1 L1034,429.7 L1035,430.1 L1036,429.9 L1037,428.6 L1038,427.6 L1039,427.7 L1040,427.3 L1040.7,426.9 L1041,427.1 L1042,427.2 L1043,427.2 L1044,428.4 L1045,428.4 L1046,428.6 L1047,428.9 L1048,429.3 L1049,428.9 L1050,427.8 L1051,425.8 L1052,424.1 L1053,422.8 L1054,421.1 L1055,420 L1056,419.1 L1057,419.7 L1058,420.9 L1059,423.2 L1060,425.1 L1061,426.2 L1062,428 L1063,429.2 L1064,429.6 L1065,430.4 L1066,431.1 L1067,430.8 L1068,431.8 L1069,431.4 L1070,431.6 L1071,431.5 L1072,431.2 L1073,431.9 L1074,431.8 L1075,431.7 L1076,431.8 L1077,432.1 L1078,431.9 L1079,431.8 L1080,432 L1081,432.3 L1082,432 L1083,431.8 L1084,432.4 L1085,432 L1086,432.3 L1087,432.1 L1088,431.8 L1089,431.7 L1090,431.9 L1091,432.1 L1092,431.4 L1093,432.4 L1094,432.6 L1095,432.2 L1096,431.9 L1097,431.7 L1098,432.4 L1099,432.4 L1100,432.3 L1101,432.6 L1102,432.1 L1103,432.2 L1104,432.4 L1105,432.2 L1106,432.5 L1107,432.5 L1108,432.2 L1109,432 L1110,432.1 L1111,432.7 L1112,431.9 L1113,432.4 L1114,432 L1115,433.1 L1116,432.1 L1117,432.6 L1118,432 L1119,433.5 L1120,431.9 L1121,432.5 L1122,431.9 L1123,432.6 L1124,431.9 L1125,432.2 L1126,431.8 L1127,432.2 L1128,432.3 L1129,432.9 L1130,431.5 L1131,432.5 L1132,432.3 L1133,432.1 L1134,432.3 L1135,432.5 L1136,432.3 L1137,432.3 L1138,432 L1139,432.2 L1140,432.5 L1141,432 L1142,432.1 L1143,432.3 L1144,432.4 L1145,432.4 L1146,432.2 L1147,431.6 L1148,432.6 L1149,432.6 L1150,432.7 L1151,432.4 L1152,432.6 L1153,432.1 L1154,431.9 L1155,432.2 L1156,432.1 L1157,432.6 L1158,432.5 L1159,432 L1160,432 L1161,432.1 L1162,432.1 L1163,432.5 L1164,431.8 L1165,432.3 L1166,431.3 L1167,431.3 L1168,431.9 L1169,431.1 L1170,430.6 L1171,430.3 L1172,429.4 L1173,429 L1174,428.6 L1175,428.2 L1176,428.1 L1177,427.9 L1178,428.6 L1179,428.7 L1180,429.7 L1181,429.9 L1182,430.5 L1183,430.9 L1184,430.9 L1185,431.2 L1186,431.5 L1187,431.8 L1188,432.1 L1189,431.7 L1190,431.5 L1191,431.9 L1192,431.8 L1193,432 L1194,432.1 L1195,432.3 L1196,431 L1197,431.4 L1198,431.4 L1199,431.6 L1200,431.5 L1201,431.1 L1202,431.1 L1203,430.2 L1204,429.7 L1205,429.1 L1206,427.4 L1207,426.5 L1208,423.3 L1209,420.1 L1210,417.1 L1211,412.5 L1212,409.5 L1213,406.9 L1214,406.4 L1215,408 L1216,409.7 L1217,412.7 L1218,417.1 L1219,420.8 L1220,423.2 L1221,426.1 L1222,428.3 L1223,429.2 L1224,429.6 L1225,430.3 L1226,430.3 L1227,430.9 L1228,431.1 L1229,431.9 L1230,431 L1231,431 L1232,431.7 L1233,431.9 L1234,431.6 L1235,431.9 L1236,432.1 L1237,432.1 L1238,432 L1239,432 L1240,431.3 L1241,432 L1242,431.7 L1243,431.3 L1244,431.3 L1245,431.2 L1246,430.9 L1247,431 L1248,430.9 L1249,430.5 L1250,431.9 L1251,431.5 L1252,432.3 L1253,431.5 L1254,432.3 L1255,431.8 L1256,432.5 L1257,432.3 L1258,432.3 L1259,432 L1260,432.2 L1261,432.6 L1262,431.4 L1263,431.9 L1264,431.7 L1265,431.8 L1266,432.3 L1267,432.4 L1268,432 L1269,432.5 L1270,431.8 L1271,431.9 L1272,432.1 L1273,432.2 L1274,432 L1275,431.7 L1276,432.2 L1277,432.6 L1278,431.8 L1279,432 L1280,431.5 L1281,431.9 L1282,431.5 L1283,431.9 L1284,432.3 L1285,431.9 L1286,431.3 L1287,431.8 L1288,430.7 L1289,431.5 L1290,430.8 L1291,429.8 L1292,429.3 L1293,428 L1294,427.6 L1295,425.4 L1296,423 L1297,421.3 L1298,420 L1299,418.9 L1299.4,419.1 L1300,419.3 L1301,419.6 L1302,421.9 L1303,424.1 L1304,425.4 L1305,427.1 L1306,427.9 L1307,428.8 L1308,429.7 L1309,429.7 L1310,429.6 L1311,430.4 L1312,429.7 L1313,429.6 L1314,429 L1315,428.2 L1316,426.9 L1317,425.2 L1318,422.9 L1319,420.8 L1320,417.7 L1321,415.3 L1322,412.7 L1323,411.4 L1323.8,410.7 L1324,411.5 L1325,412 L1326,413.5 L1327,415.7 L1328,418.8 L1329,422.1 L1330,423.8 L1331,426.3 L1332,427.5 L1333,428.6 L1334,429.2 L1335,430.3 L1336,431 L1337,431.2 L1338,431.3 L1339,430.9 L1340,431.4 L1341,431.1 L1342,431.2 L1343,431.7 L1344,431.2 L1345,431.8 L1346,431.6 L1347,432.2 L1348,431.6 L1349,431.9 L1350,432 L1351,431.8 L1352,431.8 L1353,430.9 L1354,431.7 L1355,430.7 L1356,430.8 L1357,429.9 L1358,430.3 L1359,429.9 L1360,429.7 L1361,429.1 L1362,429.1 L1363,428.7 L1363.6,428.9 L1364,429.3 L1365,428.3 L1366,429.3 L1367,429.5 L1368,429.3 L1369,430 L1370,430.8 L1371,430.5 L1372,430.2 L1373,430.6 L1374,430.2 L1375,429.3 L1376,429.2 L1377,428.8 L1378,428.3 L1379,427.8 L1380,427.3 L1381,427 L1381.7,426.8 L1382,426.9 L1383,427 L1384,427.8 L1385,428.1 L1386,428.5 L1387,429.6 L1388,430.7 L1389,430.3 L1390,431.2 L1391,430.9 L1392,431.4 L1393,431.8 L1394,432.1 L1395,432.5 L1396,431.7 L1397,431.9 L1398,432.4 L1399,432.4 L1400,431.7 L1401,432 L1402,432.4 L1403,432.4 L1404,431.7 L1405,432.1 L1406,431.2 L1407,432.4 L1408,432.6 L1409,431.6 L1410,431.9 L1411,431.5 L1412,431.8 L1413,432.1 L1414,432.1 L1415,432.1 L1416,431.4 L1417,431.5 L1418,432.4 L1419,431.8 L1420,431.5 L1421,431.6 L1422,431.1 L1423,431 L1424,430.2 L1425,429.5 L1426,428.3 L1427,428.2 L1428,426.4 L1429,424.8 L1430,423.3 L1431,421.7 L1432,420.7 L1432.3,421.2 L1433,421.5 L1434,422.3 L1435,423.4 L1436,424.7 L1437,427 L1438,428.3 L1439,429.2 L1440,430 L1441,430.6 L1442,430.9 L1443,430.8 L1444,431.5 L1445,431.5 L1446,431.9 L1447,431.7 L1448,431.9 L1449,431.5 L1450,432.1 L1451,432.7 L1452,431.9 L1453,432.2 L1454,432.3 L1455,432.1 L1456,432.1 L1457,431.4 L1458,431.7 L1459,432.5 L1460,432.1 L1461,432 L1462,432.6 L1463,431.4 L1464,432.3 L1465,432.1 L1466,431.2 L1467,431.6 L1468,432 L1469,431.5 L1470,431.5 L1471,431.9 L1472,431.5 L1473,431.4 L1474,431 L1475,430.8 L1476,430.3 L1477,430.2 L1478,428.5 L1479,426.8 L1480,425.6 L1481,424 L1482,423.6 L1483,420.9 L1483.9,421.2 L1484,421.1 L1485,422 L1486,422.2 L1487,423.7 L1488,425.8 L1489,427.3 L1490,428.4 L1491,429.3 L1492,429.6 L1493,430.2 L1494,429.8 L1495,429.2 L1496,429.2 L1497,427.4 L1498,426 L1499,425.2 L1500,424.1 L1501,423.3 L1502,422.9 L1503,423.5 L1504,424.2 L1505,425.2 L1506,427.3 L1507,428 L1508,429.5 L1509,430 L1510,430.8 L1511,431.6 L1512,430.7 L1513,431.9 L1514,431.7 L1515,432.1 L1516,431.7 L1517,431.9 L1518,431.9 L1519,431.6 L1520,432 L1521,432.7 L1522,432.5 L1523,432.6 L1524,432 L1525,432 L1526,432 L1527,431.4 L1528,432 L1529,431.9 L1530,432.5 L1531,432.5 L1532,432.3 L1533,431.9 L1534,432 L1535,432.7 L1536,432.3 L1537,432.5 L1538,432 L1539,432.5 L1540,432.1 L1541,432 L1542,432.3 L1543,432 L1544,431.8 L1545,432.7 L1546,432.5 L1547,432.1 L1548,432.2 L1549,432.6 L1550,432.1 L1551,431.4 L1552,433 L1553,431.7 L1554,432.1 L1555,431.5 L1556,431.5 L1557,432.4 L1558,431.8 L1559,432.5 L1560,432.2 L1561,432.2 L1562,432.5 L1563,432.5 L1564,432.7 L1565,431.8 L1566,432 L1567,432.5 L1568,432.5 L1569,432.1 L1570,431.8 L1571,432.3 L1572,431.2 L1573,431.7 L1574,432.6 L1575,431.8 L1576,433 L1577,432.3 L1578,432.3 L1579,433.2 L1580,432.6 L1581,432.1 L1582,432.1 L1583,432 L1584,431.5 L1585,432.4" fill="none" stroke="#0096ff" stroke-width="8" stroke-linejoin="round" stroke-linecap="butt"/>
<path d="M182,582.1 L183,581.6 L184,581.5 L185,580.8 L186,581.3 L187,581.3 L188,581.3 L189,581.1 L190,581.3 L191,581.2 L192,580.9 L193,581.6 L194,581.6 L195,581.9 L196,581.3 L197,581.1 L198,581 L199,580.7 L200,581.5 L201,580.8 L202,580.7 L203,581.1 L204,581.6 L205,581.2 L206,580.7 L207,580.8 L208,581.3 L209,581 L210,580.7 L211,580.9 L212,581.2 L213,581.7 L214,580.5 L215,580.7 L216,580.6 L217,580.1 L218,580.6 L219,580.5 L220,581.2 L221,580.8 L222,580.2 L223,581 L224,580.7 L225,580.2 L226,580.5 L227,580.5 L228,580.4 L229,580.7 L230,579.9 L231,580.6 L232,581 L233,580.9 L234,581 L235,581 L236,581.1 L237,580.2 L238,580.8 L239,579.9 L240,580.3 L241,579.8 L242,580.8 L243,580.9 L244,580.3 L245,581 L246,580.1 L247,580.4 L248,580.4 L249,579.9 L250,580.4 L251,580.9 L252,579.9 L253,580.5 L254,580.1 L255,580.8 L256,580.3 L257,580.4 L258,580.3 L259,580.1 L260,579.5 L261,580.5 L262,579.5 L263,580 L264,580.1 L265,579.5 L266,579.8 L267,580.1 L268,579.7 L269,579.3 L270,578.5 L271,579.1 L272,579.1 L273,579 L274,578.7 L275,578.9 L276,578.3 L277,577.9 L278,577.3 L279,575.5 L280,573.8 L281,572 L282,568.2 L283,563.6 L284,560.1 L285,557.4 L286,556.4 L287,557.2 L288,559.9 L289,563.7 L290,568 L291,571.2 L292,573.5 L293,575.5 L294,576.7 L295,577.9 L296,577.9 L297,578.6 L298,578.9 L299,579 L300,578.6 L301,579.4 L302,578.8 L303,579.2 L304,578.8 L305,578.5 L306,579.2 L307,579.3 L308,579.1 L309,579.3 L310,579 L311,578.9 L312,579.1 L313,579.9 L314,579.5 L315,579 L316,579.4 L317,579 L318,579 L319,579.5 L320,579 L321,578.6 L322,578.8 L323,579.2 L324,579.2 L325,579.5 L326,578.8 L327,579.3 L328,579.2 L329,579 L330,579.3 L331,579.2 L332,578.7 L333,579.4 L334,578.6 L335,579 L336,579 L337,579.1 L338,578.7 L339,578.9 L340,578.9 L341,579.3 L342,578.6 L343,578.9 L344,578.8 L345,578.4 L346,579.8 L347,578.8 L348,578.3 L349,579.3 L350,578.4 L351,578.9 L352,579 L353,578.5 L354,578.6 L355,578.5 L356,578.6 L357,578.1 L358,578.2 L359,578.6 L360,579 L361,578.8 L362,579.2 L363,578.8 L364,578.4 L365,578.5 L366,577.8 L367,578.2 L368,578.1 L369,578.6 L370,578.7 L371,578.3 L372,578.2 L373,577.9 L374,578.4 L375,578.5 L376,578.5 L377,578.1 L378,579 L379,578.7 L380,578.3 L381,578.1 L382,578.2 L383,578.3 L384,578.2 L385,578.4 L386,578.5 L387,578.7 L388,578.6 L389,578.1 L390,578.3 L391,578 L392,577.9 L393,578.8 L394,577.9 L395,578.8 L396,577.9 L397,578.1 L398,578.4 L399,578 L400,578.1 L401,577.9 L402,577.8 L403,577.9 L404,577.7 L405,578.5 L406,577.8 L407,578.5 L408,576.9 L409,577.9 L410,578 L411,577.7 L412,578.2 L413,578 L414,577.7 L415,577.9 L416,578.7 L417,577.8 L418,577.8 L419,577.5 L420,577.7 L421,577.2 L422,577.6 L423,578.5 L424,578 L425,577.8 L426,578 L427,578.2 L428,577.8 L429,578.3 L430,577.9 L431,577.6 L432,578.1 L433,576.6 L434,577.3 L435,577.5 L436,577.1 L437,577.4 L438,577.2 L439,577.1 L440,578.3 L441,577.6 L442,577.3 L443,577.8 L444,577.2 L445,577.6 L446,577.4 L447,577.8 L448,576.7 L449,577.5 L450,577.2 L451,576.8 L452,577.5 L453,576.8 L454,577.7 L455,577.3 L456,577.3 L457,577.1 L458,577.4 L459,576.4 L460,577.1 L461,576.8 L462,577.1 L463,577 L464,577.2 L465,576.7 L466,577.6 L467,577.7 L468,576.8 L469,576.9 L470,577 L471,577.3 L472,577.5 L473,576.4 L474,576.6 L475,576.4 L476,576.4 L477,576.2 L478,576.9 L479,576.3 L480,577.2 L481,577 L482,576.3 L483,576.3 L484,576.4 L485,577.1 L486,576.3 L487,576.1 L488,576.5 L489,576.7 L490,576.3 L491,577.1 L492,576.6 L493,576.6 L494,576.2 L495,576.4 L496,576.4 L497,575.6 L498,576.5 L499,575.7 L500,576.3 L501,575.8 L502,577 L503,576.4 L504,576.6 L505,576.6 L506,575.8 L507,575.4 L508,576.1 L509,576.5 L510,576.2 L511,576.4 L512,576.5 L513,575.6 L514,576.2 L515,576.8 L516,575.8 L517,575.3 L518,575.9 L519,575.8 L520,576.1 L521,575.6 L522,575.9 L523,575.1 L524,576.2 L525,576.4 L526,576.3 L527,575.2 L528,575.9 L529,574.7 L530,575.8 L531,575.7 L532,575.3 L533,575.7 L534,575.6 L535,575.9 L536,575.5 L537,575.5 L538,574.7 L539,574.9 L540,575 L541,575.1 L542,574.8 L543,574.9 L544,573.6 L545,573 L546,572.1 L547,570.5 L548,569 L549,566.6 L550,565.1 L551,562.6 L552,561.8 L552.8,561 L553,561.5 L554,561.3 L555,563.6 L556,565.3 L557,567.6 L558,569.9 L559,570.7 L560,572 L561,573 L562,574.1 L563,573.8 L564,574.8 L565,574.5 L566,574.6 L567,575 L568,575.3 L569,575 L570,575.1 L571,575.3 L572,575.2 L573,574.4 L574,575.2 L575,575.4 L576,575.8 L577,576.1 L578,575.6 L579,575.4 L580,575 L581,575.3 L582,575.5 L583,575.5 L584,574.7 L585,574.9 L586,574.9 L587,575 L588,574.3 L589,573.9 L589.8,573.8 L590,573.9 L591,573.8 L592,574.5 L593,574.8 L594,574.8 L595,575.1 L596,574.7 L597,575.1 L598,574.9 L599,575 L600,575.4 L601,575 L602,574.3 L603,574.8 L604,574.5 L605,574 L606,573.9 L607,574.1 L608,573.5 L609,571.6 L610,570.6 L611,568.6 L612,565.5 L613,563.5 L614,561.7 L615,561.1 L616,561.1 L617,563.2 L618,565.8 L619,567.9 L620,569.7 L621,570 L622,571.3 L623,570.8 L624,569.9 L625,570.3 L626,569.9 L627,570.5 L628,571 L629,572.3 L630,572.7 L631,573.3 L632,574.2 L633,574.4 L634,574.4 L635,575.2 L636,574.7 L637,574.7 L638,574.8 L639,574.5 L640,574.8 L641,575.7 L642,574.7 L643,575.1 L644,574.7 L645,574.9 L646,575.6 L647,575.4 L648,574.9 L649,575.1 L650,574.8 L651,574.7 L652,574.7 L653,574.7 L654,575.1 L655,575.1 L656,575 L657,574.7 L658,574.2 L659,574.5 L660,574 L661,574.4 L662,573.9 L663,573.4 L664,572.3 L665,570.9 L666,570.8 L667,569.7 L668,567.6 L669,567.1 L670,566.7 L671,565.6 L672,566.9 L673,566.9 L674,567.7 L675,569.7 L676,570.5 L677,571.2 L678,572.6 L679,572.4 L680,574.2 L681,573.7 L682,574.4 L683,574.3 L684,574.7 L685,575 L686,574.5 L687,575.1 L688,574.7 L689,574.6 L690,574.8 L691,574.5 L692,574.6 L693,575.3 L694,574.9 L695,575.3 L696,575.1 L697,574.6 L698,574.3 L699,574.7 L700,575 L701,575 L702,574.7 L703,575.3 L704,574.3 L705,574.5 L706,575 L707,575.7 L708,575.1 L709,574.6 L710,575.1 L711,575.2 L712,575.2 L713,574.8 L714,574.6 L715,574.9 L716,575 L717,575.4 L718,575.6 L719,574.6 L720,574.7 L721,574.8 L722,574.7 L723,575 L724,574.9 L725,574.8 L726,575.2 L727,574.6 L728,574.3 L729,574.1 L730,574.2 L731,574.1 L732,573.7 L733,574.4 L734,574.1 L735,573.6 L736,573.1 L737,572.5 L738,572.4 L739,573 L740,571.2 L741,571.7 L742,571.4 L743,570.5 L744,569.4 L745,568.6 L746,566.8 L747,566.5 L748,566.5 L749,566.1 L750,567.3 L751,569 L752,570.7 L753,572 L754,572.7 L755,572.8 L756,573.1 L757,573.9 L758,574.1 L759,573.7 L760,574.1 L761,574.3 L762,574.5 L763,573.8 L764,574.4 L765,573.7 L766,574 L767,574.1 L768,574.6 L769,575.2 L770,574.1 L771,574.2 L772,574.3 L773,573.4 L774,574.1 L775,573.3 L776,574.2 L777,574.1 L778,573.6 L779,573 L780,573.7 L781,573 L782,572.7 L783,572.4 L784,571 L785,570.9 L786,569.8 L787,567.6 L788,564.8 L789,560.7 L790,556.6 L791,551 L792,545 L793,539.4 L794,535.8 L795,534.4 L796,535.6 L797,539.8 L798,545.4 L799,551.3 L800,556.2 L801,560.7 L802,564.3 L803,567.1 L804,569.2 L805,570.6 L806,570.9 L807,571.5 L808,571.4 L809,572.2 L810,571.5 L811,571.5 L812,570.8 L813,570.6 L814,570.1 L815,570.7 L816,570.1 L817,570.1 L818,570.2 L819,570.7 L820,571.6 L821,572.4 L822,571.7 L823,572.1 L824,572.6 L825,572.5 L826,572.2 L827,572.8 L828,573.1 L829,572.2 L830,572.8 L831,573 L832,573 L833,572.4 L834,573.3 L835,572.5 L836,571.9 L837,572.4 L838,571.4 L839,571.7 L840,570.4 L841,570.2 L842,568.2 L843,566.5 L844,563.1 L845,558.8 L846,554.1 L847,550.5 L848,547.4 L849,548.6 L850,550.5 L851,552.2 L852,552.5 L853,551.7 L854,547.1 L855,543.6 L856,541.2 L856.2,541.6 L857,541 L858,545.3 L859,548 L860,550.1 L861,551.4 L862,550.4 L863,547 L864,541.1 L865,533.7 L866,524 L867,513.1 L868,500.7 L869,489.9 L870,479.4 L871,470.5 L872,465.4 L872.5,465 L873,466.7 L874,470.6 L875,478.9 L876,489.7 L877,502 L878,513.4 L879,524.3 L880,533.9 L881,542.7 L882,549.8 L883,554.6 L884,559 L885,561.6 L886,563.6 L887,565 L888,565.7 L889,566.3 L890,565.9 L891,564.8 L892,563.7 L893,561.5 L894,558.5 L895,554.1 L896,548.5 L897,540.8 L898,533.3 L899,524.7 L900,514.6 L901,507.4 L902,500.9 L903,498 L903.2,497.4 L904,499.8 L905,504.2 L906,512.2 L907,521.7 L908,530.6 L909,539.4 L910,547.2 L911,554.1 L912,559.5 L913,563.5 L914,566.4 L915,568.3 L916,570 L917,570.8 L918,572.6 L919,572.5 L920,572.3 L921,572.9 L922,574.2 L923,573.4 L924,574 L925,574.5 L926,574.2 L927,575.1 L928,575.5 L929,574.7 L930,575.5 L931,575 L932,575.1 L933,575.6 L934,575.7 L935,575.6 L936,576.2 L937,575.4 L938,575.7 L939,575.8 L940,576.5 L941,576.6 L942,576.6 L943,576 L944,576.5 L945,576.7 L946,576 L947,576.3 L948,576.9 L949,577 L950,576.8 L951,576.9 L952,576.8 L953,576.7 L954,576.4 L955,575.9 L956,575.7 L957,575 L958,575.1 L959,573.3 L960,571.9 L961,570.6 L962,569.4 L963,568.6 L963.8,568.7 L964,568.5 L965,569.3 L966,569.9 L967,571.6 L968,573.2 L969,573.8 L970,575.4 L971,576.3 L972,576.7 L973,577.1 L974,577 L975,578.3 L976,577.7 L977,577.7 L978,578.5 L979,577.7 L980,578.8 L981,578.7 L982,578.8 L983,578.6 L984,578.3 L985,578.1 L986,579.4 L987,578.7 L988,578.8 L989,579.5 L990,578.8 L991,579 L992,579 L993,579.1 L994,578.7 L995,578.9 L996,579.4 L997,579.1 L998,577.6 L999,577.7 L1000,578.1 L1001,577.4 L1002,576.8 L1003,576.8 L1004,575.5 L1005,576.4 L1006,576.2 L1007,576.8 L1008,577.2 L1009,578 L1010,578.1 L1011,578.5 L1012,579.3 L1013,579.4 L1014,579.1 L1015,580.1 L1016,580.2 L1017,580.3 L1018,579.9 L1019,580 L1020,579.8 L1021,579.6 L1022,580 L1023,580.1 L1024,579.8 L1025,580.7 L1026,579.5 L1027,579.8 L1028,579.8 L1029,580.5 L1030,579.9 L1031,579.8 L1032,579.5 L1033,579.4 L1034,579 L1035,579.5 L1036,578.9 L1037,578.6 L1038,577.6 L1039,578.2 L1040,576.7 L1040.7,576.3 L1041,576.9 L1042,577.2 L1043,577.7 L1044,577.5 L1045,578.3 L1046,578.9 L1047,578 L1048,577.7 L1049,576.8 L1050,576.6 L1051,575.7 L1052,574.5 L1053,573.4 L1054,572.8 L1055,572 L1056,572.7 L1057,572.9 L1058,574.2 L1059,575.9 L1060,576.7 L1061,578.3 L1062,579.4 L1063,579.7 L1064,579.7 L1065,580 L1066,581 L1067,580.4 L1068,580.8 L1069,580.8 L1070,580.9 L1071,581.4 L1072,580.8 L1073,580.6 L1074,581.6 L1075,581.2 L1076,581.5 L1077,581.2 L1078,581.5 L1079,581.7 L1080,581.8 L1081,581.3 L1082,581.3 L1083,581.6 L1084,581.5 L1085,581.7 L1086,581.2 L1087,580.7 L1088,581.7 L1089,581.8 L1090,581.8 L1091,582.2 L1092,581.9 L1093,581.5 L1094,582 L1095,581.7 L1096,582.2 L1097,581.8 L1098,581.9 L1099,581.9 L1100,581.8 L1101,581.3 L1102,581.8 L1103,581 L1104,581.9 L1105,582.1 L1106,582.5 L1107,581.9 L1108,581.5 L1109,581.2 L1110,582.4 L1111,581.2 L1112,582 L1113,580.9 L1114,581.7 L1115,581.9 L1116,581.8 L1117,581.6 L1118,581.3 L1119,581.3 L1120,581.9 L1121,581.7 L1122,581.4 L1123,581.5 L1124,581 L1125,581.6 L1126,581.5 L1127,580.6 L1128,580.6 L1129,580.6 L1130,579.6 L1131,580 L1132,579.2 L1133,577.9 L1134,577.7 L1135,577.3 L1136,575.8 L1137,576.2 L1137.4,575.9 L1138,576 L1139,576.6 L1140,576.6 L1141,576.9 L1142,577.6 L1143,578.7 L1144,579.5 L1145,579.8 L1146,580.1 L1147,580.5 L1148,581.2 L1149,581.1 L1150,580.8 L1151,581 L1152,581.6 L1153,581 L1154,581.1 L1155,581.3 L1156,580.9 L1157,581.6 L1158,580.5 L1159,581.8 L1160,581.1 L1161,580.8 L1162,581.3 L1163,580.6 L1164,581.3 L1165,581.3 L1166,580.7 L1167,580.5 L1168,580.7 L1169,579.8 L1170,579.6 L1171,579.3 L1172,579.1 L1173,577.8 L1174,577.5 L1175,577.5 L1176,576.1 L1177,577 L1178,576.8 L1179,577.3 L1180,579.2 L1181,579.1 L1182,580 L1183,579.9 L1184,580.4 L1185,580.4 L1186,580.5 L1187,580.8 L1188,580.9 L1189,581.4 L1190,580.9 L1191,581.1 L1192,580.8 L1193,580.9 L1194,580.4 L1195,581.2 L1196,580.6 L1197,580.7 L1198,580.6 L1199,580.9 L1200,580.6 L1201,580.3 L1202,580.1 L1203,579.8 L1204,579.5 L1205,578.6 L1206,577.7 L1207,576.3 L1208,573.9 L1209,570.7 L1210,569 L1211,566.3 L1212,563 L1213,561.5 L1213.5,560.8 L1214,562 L1215,562.7 L1216,566.1 L1217,567.4 L1218,571.1 L1219,573.8 L1220,575.5 L1221,576.9 L1222,578.4 L1223,578.9 L1224,579.5 L1225,580 L1226,580 L1227,580.3 L1228,580.7 L1229,580.4 L1230,580.7 L1231,580.4 L1232,581 L1233,580.3 L1234,581.1 L1235,579.7 L1236,580.4 L1237,580.2 L1238,581 L1239,580.7 L1240,580.1 L1241,580.2 L1242,580.6 L1243,579.9 L1244,579.8 L1245,578.7 L1246,578.4 L1247,578.9 L1248,579.4 L1249,578.5 L1250,579.1 L1251,578.9 L1252,580 L1253,579.7 L1254,580 L1255,579.7 L1256,580.4 L1257,580.7 L1258,581.2 L1259,580.4 L1260,581.1 L1261,580.7 L1262,580.7 L1263,580.5 L1264,580.2 L1265,580.4 L1266,581.4 L1267,580.4 L1268,580.7 L1269,581.2 L1270,580.1 L1271,580.9 L1272,580.6 L1273,580.8 L1274,581.1 L1275,580.7 L1276,580.6 L1277,581 L1278,580.9 L1279,580.4 L1280,580.6 L1281,580.1 L1282,581 L1283,580.1 L1284,580.5 L1285,581 L1286,580.6 L1287,580.1 L1288,579.8 L1289,579.5 L1290,579.7 L1291,579 L1292,578.1 L1293,578.1 L1294,575.7 L1295,574.5 L1296,573.3 L1297,572.3 L1298,571.7 L1298.5,571.4 L1299,571.8 L1300,572.4 L1301,573.1 L1302,573.6 L1303,576 L1304,576.4 L1305,577.4 L1306,578.2 L1307,578.2 L1308,578.6 L1309,579 L1310,578.8 L1311,578.8 L1312,578 L1313,577.6 L1314,576.4 L1315,575.4 L1316,573.9 L1317,571.7 L1318,568.8 L1319,566.5 L1320,563.9 L1321,561.8 L1322,559.6 L1323,558.8 L1324,559.2 L1325,562.1 L1326,563.5 L1327,566.2 L1328,569.3 L1329,571.2 L1330,574.3 L1331,575.7 L1332,577.1 L1333,577.5 L1334,578.3 L1335,579.2 L1336,579.6 L1337,580.5 L1338,580 L1339,579.1 L1340,579.9 L1341,579.8 L1342,580.4 L1343,580 L1344,580.2 L1345,580 L1346,580.3 L1347,580.7 L1348,579.9 L1349,579.4 L1350,579.8 L1351,580.7 L1352,580.1 L1353,579.9 L1354,579.6 L1355,580.2 L1356,579.8 L1357,579.5 L1358,579.2 L1359,579.2 L1360,579 L1361,579.2 L1361.8,579.4 L1362,578.3 L1363,578.5 L1364,579.1 L1365,579.3 L1366,578.8 L1367,579.3 L1368,579.5 L1369,579.6 L1370,579.6 L1371,579.8 L1372,580.1 L1373,579.9 L1374,579.7 L1375,579.4 L1376,578.9 L1377,578.7 L1378,578.8 L1379,578.4 L1380,578.4 L1381,578.1 L1381.7,578 L1382,578.1 L1383,577.5 L1384,578.2 L1385,578.3 L1386,579.1 L1387,578.8 L1388,579.4 L1389,579.4 L1390,579.9 L1391,580.1 L1392,579.9 L1393,580.1 L1394,580.1 L1395,580.4 L1396,580 L1397,580.2 L1398,580 L1399,579.9 L1400,580.3 L1401,580.3 L1402,579.9 L1403,580.7 L1404,579.9 L1405,580.4 L1406,580.3 L1407,579.6 L1408,580.1 L1409,579.6 L1410,580.1 L1411,580.4 L1412,580.7 L1413,580.4 L1414,579.5 L1415,579.9 L1416,580.5 L1417,580 L1418,580.5 L1419,579.6 L1420,579.6 L1421,579.2 L1422,579.3 L1423,579.6 L1424,578.4 L1425,578.4 L1426,577.5 L1427,576.7 L1428,575.3 L1429,574.4 L1430,574.2 L1431,572.6 L1431.4,573.2 L1432,573.6 L1433,573.8 L1434,575.1 L1435,574.5 L1436,576.4 L1437,577 L1438,578 L1439,578.7 L1440,579.3 L1441,579.1 L1442,579.9 L1443,579.1 L1444,580.1 L1445,579.7 L1446,579.2 L1447,579.2 L1448,579.2 L1449,579.5 L1450,579.9 L1451,580.4 L1452,580.2 L1453,579.4 L1454,579.1 L1455,579.8 L1456,579.4 L1457,579.8 L1458,579.6 L1459,580.8 L1460,579.3 L1461,580 L1462,580.5 L1463,579.7 L1464,579.5 L1465,580.4 L1466,579 L1467,579.1 L1468,579.3 L1469,579.8 L1470,579.9 L1471,579.5 L1472,580.2 L1473,579.2 L1474,579.1 L1475,578.6 L1476,578.7 L1477,577.6 L1478,576.7 L1479,576.5 L1480,575.3 L1481,574.3 L1482,572.8 L1483,572.6 L1484,573.1 L1485,573.8 L1486,574.6 L1487,575.7 L1488,576.9 L1489,577.1 L1490,578.1 L1491,578.3 L1492,578.5 L1493,578.7 L1494,579 L1495,578.7 L1496,578.1 L1497,578.1 L1498,577.5 L1499,577.1 L1500,576.4 L1501,576.5 L1502,576.1 L1503,575.7 L1504,576.1 L1505,576.5 L1506,577.7 L1507,577.8 L1508,578.4 L1509,578.8 L1510,579.6 L1511,580.1 L1512,579.4 L1513,580.2 L1514,579.8 L1515,580 L1516,579.5 L1517,579.2 L1518,579.8 L1519,580.1 L1520,579.1 L1521,579.7 L1522,579.8 L1523,579.9 L1524,579.3 L1525,579.5 L1526,580 L1527,580.3 L1528,579.7 L1529,580 L1530,579.8 L1531,579.8 L1532,579.6 L1533,579.6 L1534,579.5 L1535,579.7 L1536,580.1 L1537,579.7 L1538,579.9 L1539,579.4 L1540,579.9 L1541,578.6 L1542,579.2 L1543,579.5 L1544,579 L1545,579.8 L1546,579.7 L1547,579.3 L1548,579.7 L1549,579.1 L1550,579.3 L1551,579.5 L1552,579.1 L1553,580 L1554,579.4 L1555,580 L1556,579.6 L1557,579.7 L1558,579.3 L1559,579.5 L1560,579.4 L1561,579.7 L1562,580.1 L1563,579.4 L1564,579.5 L1565,579.7 L1566,579.9 L1567,579.5 L1568,579.4 L1569,579.3 L1570,579.5 L1571,579.6 L1572,579.3 L1573,579.4 L1574,579.8 L1575,579.5 L1576,579.3 L1577,579.8 L1578,579.8 L1579,579.7 L1580,579.7 L1581,579.4 L1582,579.6 L1583,579.6 L1584,579.5 L1585,578.9" fill="none" stroke="#2ee02e" stroke-width="8" stroke-linejoin="round" stroke-linecap="butt"/>
<path d="M182,731.9 L183,732.1 L184,731.4 L185,732.1 L186,731.6 L187,731.2 L188,731.5 L189,732 L190,731.9 L191,731.3 L192,731.9 L193,731.6 L194,731.8 L195,731.8 L196,731.2 L197,731.7 L198,731.3 L199,732.2 L200,731.8 L201,731.5 L202,731.1 L203,731.5 L204,731.5 L205,731 L206,732.3 L207,731.6 L208,732.1 L209,730.9 L210,732 L211,730.8 L212,731.1 L213,731.5 L214,731.3 L215,730.3 L216,730.8 L217,731.6 L218,732 L219,731.6 L220,731.1 L221,731.5 L222,730.7 L223,731.3 L224,730.5 L225,731.1 L226,731 L227,731.4 L228,730.9 L229,731.5 L230,730.9 L231,731.3 L232,731.2 L233,730.2 L234,730.9 L235,730.9 L236,730.5 L237,730.9 L238,730.2 L239,731 L240,731 L241,730.9 L242,731.7 L243,730.8 L244,730.7 L245,730.4 L246,730.8 L247,730.2 L248,731.1 L249,730.3 L250,730.6 L251,731.3 L252,731 L253,730.6 L254,731 L255,730.4 L256,730.7 L257,730.4 L258,730 L259,730.5 L260,730.6 L261,730.1 L262,729.8 L263,729.9 L264,729.2 L265,729.8 L266,729.6 L267,730.8 L268,729.7 L269,729.2 L270,730.1 L271,729.6 L272,729.6 L273,729.5 L274,729.4 L275,729 L276,729.2 L277,728.5 L278,727.4 L279,726.3 L280,724.3 L281,722.4 L282,719.5 L283,716 L284,712.5 L285,709.5 L286,709.1 L287,709.4 L288,712.2 L289,715.5 L290,719.1 L291,722 L292,725.3 L293,726.3 L294,726.6 L295,727.8 L296,727.9 L297,729.1 L298,729.4 L299,728.8 L300,729.3 L301,729.1 L302,729.4 L303,729.9 L304,729.1 L305,728.8 L306,729.6 L307,729.5 L308,729.6 L309,729.7 L310,729 L311,728.5 L312,729.7 L313,729.1 L314,728.8 L315,728.8 L316,729.7 L317,729.4 L318,729.4 L319,729.6 L320,729 L321,728.8 L322,728.9 L323,728.8 L324,729.1 L325,728.8 L326,729.2 L327,729 L328,729.1 L329,729.4 L330,729.7 L331,729.7 L332,729.1 L333,729.2 L334,728.9 L335,729.4 L336,729.6 L337,728.8 L338,729.3 L339,728.8 L340,728.9 L341,729 L342,728.8 L343,729.3 L344,728.3 L345,728.6 L346,728.8 L347,728.4 L348,729 L349,728.2 L350,728.8 L351,728.2 L352,728.7 L353,728.9 L354,729.6 L355,729.1 L356,729.3 L357,728.7 L358,729.5 L359,728.5 L360,728.5 L361,728.1 L362,728.7 L363,729 L364,728.3 L365,728.4 L366,728.3 L367,728.4 L368,728.2 L369,727.9 L370,729 L371,727.6 L372,728 L373,728.5 L374,728.8 L375,728.3 L376,728.2 L377,728.3 L378,728.2 L379,728.6 L380,728.1 L381,727.8 L382,728 L383,728.2 L384,728.7 L385,728.8 L386,728 L387,727.5 L388,727.6 L389,728.9 L390,727.9 L391,728.2 L392,728.8 L393,727.7 L394,727.9 L395,727.8 L396,727.5 L397,728.3 L398,728.4 L399,727.2 L400,728.3 L401,727.8 L402,727.9 L403,727.9 L404,727.3 L405,727.7 L406,727.4 L407,728.5 L408,728.6 L409,727.8 L410,727.2 L411,728.2 L412,727.6 L413,728.4 L414,728.4 L415,728.3 L416,727.4 L417,727.2 L418,727.3 L419,727.5 L420,727.2 L421,728 L422,727.8 L423,727.5 L424,727.3 L425,727.7 L426,728 L427,726.6 L428,727.5 L429,727.2 L430,727 L431,727.2 L432,727.4 L433,728 L434,727.3 L435,727.1 L436,726.7 L437,727.5 L438,726.9 L439,727.1 L440,727.4 L441,727.2 L442,727 L443,727 L444,727.4 L445,727.1 L446,727.1 L447,727.2 L448,726.9 L449,727.1 L450,726.9 L451,727.4 L452,727.1 L453,726.2 L454,726.8 L455,727.3 L456,726.8 L457,726.7 L458,727.2 L459,726.4 L460,726.8 L461,727 L462,727.1 L463,726.3 L464,726.2 L465,727.3 L466,726.4 L467,726.6 L468,727.6 L469,726.4 L470,725.7 L471,727.7 L472,727 L473,726.7 L474,727.6 L475,726.5 L476,727.1 L477,726.5 L478,726.3 L479,726.7 L480,726.8 L481,726.9 L482,726.9 L483,726.2 L484,726.3 L485,727.1 L486,726.5 L487,726.3 L488,726.8 L489,726.8 L490,726.7 L491,726 L492,726 L493,726.5 L494,726.6 L495,725.7 L496,725.9 L497,726 L498,726.5 L499,725.6 L500,727.1 L501,726 L502,726.2 L503,726.9 L504,726.2 L505,726.2 L506,725.8 L507,726.1 L508,725.4 L509,725.8 L510,725.8 L511,725.4 L512,726.2 L513,725.9 L514,725 L515,726 L516,725.3 L517,725.9 L518,725.3 L519,725.5 L520,725.8 L521,726.4 L522,724.9 L523,725.4 L524,725.4 L525,725.9 L526,725.3 L527,725.6 L528,725.9 L529,725.7 L530,725.2 L531,725.2 L532,725.2 L533,725.3 L534,724.9 L535,725.2 L536,725.4 L537,724.9 L538,724.9 L539,725.1 L540,725.2 L541,724.2 L542,724.2 L543,724.8 L544,723.8 L545,722.7 L546,722.3 L547,721.7 L548,719.3 L549,717.5 L550,716 L551,715.1 L552,713 L552.8,713.2 L553,713.4 L554,713.9 L555,714.9 L556,717 L557,718.6 L558,720.5 L559,721.7 L560,722.7 L561,722.7 L562,724.2 L563,724.3 L564,723.7 L565,724.7 L566,724.9 L567,724.9 L568,724 L569,724.7 L570,724.6 L571,724.9 L572,724.2 L573,725.2 L574,725.3 L575,725.4 L576,725.1 L577,725.1 L578,725.6 L579,725.3 L580,725 L581,725.3 L582,725.4 L583,725.6 L584,725.3 L585,724.8 L586,724.9 L587,725.1 L588,725.2 L589,725.4 L589.8,724.3 L590,724.7 L591,724.5 L592,725.4 L593,725.3 L594,725.1 L595,725.3 L596,724.8 L597,725.2 L598,725 L599,725 L600,724.8 L601,725.2 L602,725.2 L603,724.1 L604,724.4 L605,724.5 L606,724.4 L607,723.1 L608,722.7 L609,722 L610,721.5 L611,718.7 L612,717 L613,715.1 L614,713.6 L615,713.1 L616,713.5 L617,714.9 L618,716.9 L619,718.6 L620,720.1 L621,721 L622,720.8 L623,721.4 L624,721.3 L625,721.3 L626,721.3 L627,721.9 L628,721.5 L629,722.4 L630,723.1 L631,723.3 L632,723.8 L633,724.1 L634,724.3 L635,725.5 L636,724.6 L637,725.3 L638,724.4 L639,724.9 L640,724.5 L641,724.9 L642,725.4 L643,725.6 L644,725.1 L645,725 L646,724.8 L647,724.9 L648,725.3 L649,724.1 L650,724.6 L651,724.3 L652,725 L653,724.1 L654,724.8 L655,724 L656,723.9 L657,724.8 L658,724.4 L659,723.4 L660,722.7 L661,722.5 L662,722.4 L663,721.2 L664,719.6 L665,718.5 L666,717 L667,713.9 L668,712.2 L669,710 L670,709.4 L671,708.6 L672,708.7 L673,709.7 L674,712.5 L675,714.2 L676,716.5 L677,718.2 L678,720 L679,720.5 L680,721.8 L681,723 L682,724.1 L683,723.8 L684,723.9 L685,723.9 L686,724 L687,724.2 L688,724.1 L689,724.5 L690,724.5 L691,725.3 L692,724.5 L693,725 L694,724.5 L695,725 L696,725.6 L697,724.5 L698,724.2 L699,725.1 L700,724.7 L701,724.6 L702,724.9 L703,724.8 L704,725.2 L705,724.9 L706,724.5 L707,724.3 L708,724.1 L709,724.3 L710,725.2 L711,724.2 L712,724.7 L713,725.2 L714,724.9 L715,725.3 L716,725 L717,725.3 L718,724.5 L719,724.3 L720,725.4 L721,724.8 L722,724.7 L723,724.4 L724,725.2 L725,724.8 L726,724.8 L727,724.3 L728,724.5 L729,724.3 L730,724.4 L731,724.4 L732,724 L733,723.7 L734,724.2 L735,723.3 L736,723.9 L737,723.7 L738,722.2 L739,723 L740,721.7 L741,722.1 L742,720.8 L743,720.5 L744,718.7 L745,718.1 L746,716.6 L747,716.1 L748,715.3 L749,714.9 L750,716.2 L751,716.7 L752,717.9 L753,719 L754,719.2 L755,718.8 L756,718.7 L757,719.5 L758,721.1 L759,721 L760,721.2 L761,721.9 L762,722.5 L763,723.8 L764,723.4 L765,723.4 L766,723.9 L767,724.2 L768,723.8 L769,723.6 L770,723.9 L771,724.2 L772,723.2 L773,723.2 L774,724.5 L775,723.8 L776,723.7 L777,723 L778,723 L779,723.2 L780,723.6 L781,723 L782,722 L783,722.9 L784,722.4 L785,721.3 L786,719.4 L787,717.8 L788,715.5 L789,712.3 L790,708.8 L791,702.6 L792,697.7 L793,693 L794,689.2 L795,687.8 L796,688.7 L797,692.9 L798,697.6 L799,703 L800,708.1 L801,711.8 L802,715 L803,717.5 L804,718.8 L805,719.9 L806,719.6 L807,720 L808,720.3 L809,719.7 L810,719.2 L811,717.7 L812,717.2 L813,716.8 L814,716.5 L814.5,716.4 L815,717.1 L816,716.8 L817,717.6 L818,718.7 L819,719.6 L820,720.3 L821,721.6 L822,721.7 L823,721.9 L824,721.9 L825,723 L826,722.4 L827,722.9 L828,722.5 L829,723.6 L830,723 L831,722 L832,722.8 L833,722.1 L834,722.3 L835,722.8 L836,721.8 L837,722.3 L838,721.9 L839,721.9 L840,720.8 L841,720.6 L842,719 L843,717.6 L844,714.5 L845,711.3 L846,707.7 L847,704.2 L848,702 L849,702.5 L850,703.7 L851,705.1 L852,705.4 L853,702.5 L854,699.2 L855,696.3 L856,693.9 L856.2,694.5 L857,695.1 L858,697.8 L859,701 L860,703.6 L861,704.7 L862,704.1 L863,701.6 L864,696.6 L865,690.7 L866,682.2 L867,671.3 L868,659.4 L869,648.8 L870,635.8 L871,624.3 L872,616.5 L873,613 L873.4,613 L874,613.8 L875,619.2 L876,628.3 L877,639.6 L878,650.7 L879,663.1 L880,674.2 L881,684.3 L882,692.5 L883,699.6 L884,705.5 L885,708.4 L886,711.9 L887,713.1 L888,714.3 L889,715.9 L890,715.5 L891,715.2 L892,714.7 L893,711.8 L894,709.7 L895,706.5 L896,700.6 L897,695.1 L898,688.2 L899,680.3 L900,672.3 L901,665.2 L902,659.6 L903,657.4 L903.2,657.2 L904,657.9 L905,662.7 L906,669.2 L907,677.4 L908,684.9 L909,691.9 L910,697.6 L911,702.5 L912,705.6 L913,709.1 L914,711.7 L915,714.7 L916,716.8 L917,720.2 L918,721 L919,721.5 L920,722.5 L921,723.3 L922,723.4 L923,724.2 L924,724.3 L925,724.8 L926,723.5 L927,725.1 L928,725 L929,725.5 L930,725 L931,725 L932,725 L933,725.7 L934,725.7 L935,725 L936,725.6 L937,725.9 L938,725.5 L939,725.9 L940,726 L941,725.9 L942,725.5 L943,726.7 L944,726.4 L945,726.5 L946,726.1 L947,726.5 L948,726.2 L949,726.4 L950,726.5 L951,726.7 L952,726.2 L953,726 L954,726.7 L955,725.4 L956,725.7 L957,725.1 L958,724.8 L959,723.5 L960,722.3 L961,721.7 L962,720.2 L963,719.7 L963.8,720 L964,720.1 L965,719.9 L966,721.8 L967,722.3 L968,723.9 L969,724.8 L970,725.3 L971,725.8 L972,725.9 L973,727.2 L974,727.7 L975,727.3 L976,727.4 L977,727.2 L978,727.3 L979,727.7 L980,728.3 L981,727.8 L982,728.4 L983,728.2 L984,728 L985,727.7 L986,727.9 L987,727.5 L988,728.3 L989,728.2 L990,727.6 L991,727.7 L992,727.5 L993,728 L994,728.2 L995,727.6 L996,727.7 L997,727.9 L998,726.9 L999,727.4 L1000,727.6 L1001,727.2 L1002,726 L1003,725.6 L1004,725.5 L1005,725.3 L1005.4,725.6 L1006,725.2 L1007,725.5 L1008,726 L1009,727 L1010,726.5 L1011,727.9 L1012,727.8 L1013,728.2 L1014,727.9 L1015,728.4 L1016,728.2 L1017,727.6 L1018,728.8 L1019,728.2 L1020,728.8 L1021,728.3 L1022,728.7 L1023,728.7 L1024,728.2 L1025,728.9 L1026,728.7 L1027,728 L1028,729.7 L1029,729.2 L1030,729.1 L1031,729 L1032,729.3 L1033,728.7 L1034,729.1 L1035,729.1 L1036,728.4 L1037,728.5 L1038,728.4 L1039,727.6 L1040,728.2 L1040.7,728 L1041,728.5 L1042,728.1 L1043,727.8 L1044,728.3 L1045,728.1 L1046,727.3 L1047,727.9 L1048,727 L1049,727.4 L1050,726.2 L1051,725.5 L1052,724.2 L1053,722.9 L1054,722.6 L1055,721.4 L1056,722.7 L1057,723.1 L1058,723.5 L1059,725.3 L1060,726.7 L1061,727.2 L1062,728.6 L1063,729.2 L1064,728.8 L1065,729 L1066,729.4 L1067,729.5 L1068,730 L1069,730.3 L1070,730.2 L1071,730.2 L1072,730 L1073,730 L1074,729.8 L1075,731.1 L1076,730.5 L1077,730.4 L1078,730 L1079,729.7 L1080,730 L1081,730.2 L1082,730.2 L1083,730.7 L1084,730.3 L1085,730.7 L1086,730.7 L1087,730.8 L1088,730.5 L1089,730.9 L1090,730.6 L1091,730.7 L1092,730.6 L1093,730.6 L1094,730.8 L1095,731 L1096,730.5 L1097,730.6 L1098,730.8 L1099,731.2 L1100,730.8 L1101,731.1 L1102,731.2 L1103,730.8 L1104,731.4 L1105,730.4 L1106,730.2 L1107,730.3 L1108,730.4 L1109,730.5 L1110,730.6 L1111,730.9 L1112,730.5 L1113,730.5 L1114,730.9 L1115,730.6 L1116,730.7 L1117,730.4 L1118,730.1 L1119,730.5 L1120,730.4 L1121,730.6 L1122,730.4 L1123,729.9 L1124,730.7 L1125,729.4 L1126,728.9 L1127,729 L1128,728.6 L1129,728.4 L1130,727.3 L1131,726.7 L1132,725.9 L1133,725.2 L1134,723.4 L1135,723.5 L1136,722.6 L1136.5,723.4 L1137,722.7 L1138,723.1 L1139,724.3 L1140,724.9 L1141,725.7 L1142,726.9 L1143,727.3 L1144,727.9 L1145,729.1 L1146,729 L1147,729.6 L1148,729.3 L1149,730 L1150,730 L1151,730.4 L1152,731.1 L1153,729.6 L1154,730 L1155,730.2 L1156,730.4 L1157,729.8 L1158,730.4 L1159,730.1 L1160,730.4 L1161,730 L1162,731.5 L1163,730.4 L1164,730.6 L1165,729.3 L1166,729.8 L1167,730 L1168,730.5 L1169,729.3 L1170,729.5 L1171,728.7 L1172,728.7 L1173,727.6 L1174,727.4 L1175,727.7 L1175.4,728.3 L1176,728.4 L1177,728.1 L1178,727.9 L1179,729.2 L1180,728.9 L1181,729 L1182,729.4 L1183,729.7 L1184,730.6 L1185,730.1 L1186,729.9 L1187,730 L1188,729.6 L1189,730.7 L1190,729.8 L1191,730.3 L1192,729.8 L1193,729.9 L1194,729.3 L1195,730.2 L1196,731 L1197,730.7 L1198,730.1 L1199,730.5 L1200,729.5 L1201,729.2 L1202,729.9 L1203,728.9 L1204,729.5 L1205,728.5 L1206,726.5 L1207,725.4 L1208,723.6 L1209,721.8 L1210,718.9 L1211,716.5 L1212,713.8 L1213,713.8 L1213.5,713.4 L1214,713.2 L1215,713.8 L1216,716.6 L1217,720.2 L1218,721.7 L1219,724.2 L1220,724.7 L1221,726.8 L1222,727.8 L1223,729.1 L1224,728.7 L1225,729.7 L1226,730 L1227,729.8 L1228,729.8 L1229,730.1 L1230,729.6 L1231,729.4 L1232,729.4 L1233,730.1 L1234,730 L1235,730.1 L1236,729.9 L1237,730.1 L1238,730.9 L1239,730 L1240,729.8 L1241,729.7 L1242,729.8 L1243,730.3 L1244,730 L1245,729.9 L1246,729.9 L1247,729.4 L1248,729.6 L1249,729.8 L1250,729.8 L1251,730.1 L1252,730.4 L1253,729.9 L1254,730.3 L1255,730.3 L1256,730 L1257,730.4 L1258,730.6 L1259,729.6 L1260,730.4 L1261,730.4 L1262,730.3 L1263,729.6 L1264,730.6 L1265,730.1 L1266,729.9 L1267,729.6 L1268,730.4 L1269,730.1 L1270,729.6 L1271,730.8 L1272,729.7 L1273,730.4 L1274,729.7 L1275,730 L1276,730.4 L1277,730 L1278,730.3 L1279,730.1 L1280,730.6 L1281,730.3 L1282,730.2 L1283,729.7 L1284,729.8 L1285,730 L1286,730.5 L1287,730.3 L1288,729.7 L1289,729.9 L1290,729.2 L1291,728.8 L1292,728.2 L1293,727.3 L1294,726.7 L1295,726.7 L1296,724.4 L1297,724.1 L1298,723.5 L1298.5,723 L1299,723.4 L1300,723.4 L1301,724.4 L1302,725.9 L1303,726.9 L1304,727.1 L1305,727.7 L1306,727.7 L1307,728.8 L1308,728.5 L1309,728.4 L1310,728.8 L1311,728.5 L1312,727.7 L1313,728.3 L1314,726.5 L1315,725.5 L1316,725.2 L1317,723 L1318,720.3 L1319,719 L1320,716.2 L1321,713.1 L1322,710.9 L1323,709.5 L1323.8,709.3 L1324,709 L1325,709.4 L1326,711.7 L1327,714.1 L1328,716.3 L1329,719.4 L1330,721.5 L1331,724 L1332,726 L1333,726.9 L1334,728.6 L1335,728.3 L1336,728.6 L1337,728.5 L1338,729.4 L1339,729.3 L1340,728.6 L1341,729.1 L1342,729.7 L1343,729.3 L1344,729.7 L1345,729.7 L1346,730.4 L1347,729 L1348,729.6 L1349,729.1 L1350,729.3 L1351,730.4 L1352,730 L1353,729.8 L1354,729.5 L1355,729.4 L1356,730.1 L1357,728.8 L1358,729.5 L1359,729.3 L1360,728.3 L1361,728.7 L1362,728.2 L1362.7,728.5 L1363,728.9 L1364,728.7 L1365,729.2 L1366,729.1 L1367,728.1 L1368,729.4 L1369,728.7 L1370,728.2 L1371,729.3 L1372,729.2 L1373,730.3 L1374,729.8 L1375,729.7 L1376,729.3 L1377,729.6 L1378,728.9 L1379,729.5 L1380,728.8 L1380.8,728.9 L1381,729.1 L1382,728.8 L1383,730.3 L1384,729.3 L1385,729.1 L1386,729 L1387,729.2 L1388,729.6 L1389,729.9 L1390,729.1 L1391,729.6 L1392,730.5 L1393,729.9 L1394,729.8 L1395,729.7 L1396,729.8 L1397,729.9 L1398,730.4 L1399,730.4 L1400,729.6 L1401,729.5 L1402,730 L1403,729.6 L1404,730.2 L1405,730.3 L1406,729.5 L1407,729 L1408,729.2 L1409,729.7 L1410,729.3 L1411,729.9 L1412,729.8 L1413,729.7 L1414,729.6 L1415,729.4 L1416,729.9 L1417,728.8 L1418,729.7 L1419,730.4 L1420,729.9 L1421,729.3 L1422,729 L1423,729 L1424,728.4 L1425,728.5 L1426,726.9 L1427,726.2 L1428,724.8 L1429,724.5 L1430,722.9 L1431,723.4 L1431.4,723.2 L1432,722.6 L1433,723.8 L1434,724.4 L1435,725.2 L1436,725.9 L1437,726.6 L1438,727.3 L1439,727.8 L1440,728.8 L1441,728.7 L1442,730.1 L1443,729.5 L1444,729.9 L1445,729.2 L1446,730.1 L1447,729.4 L1448,729.9 L1449,729.7 L1450,729.9 L1451,729.1 L1452,729.2 L1453,730 L1454,729.8 L1455,729.4 L1456,729.8 L1457,729.6 L1458,729.4 L1459,730.4 L1460,728.7 L1461,729.4 L1462,729.9 L1463,729.7 L1464,730.3 L1465,729.7 L1466,729.7 L1467,729.2 L1468,730.1 L1469,729.1 L1470,729.2 L1471,729.1 L1472,729.4 L1473,728.7 L1474,728.7 L1475,728.1 L1476,727.1 L1477,726.8 L1478,727.1 L1479,725 L1480,724.2 L1481,724.1 L1482,722 L1483,722.3 L1484,722.8 L1485,722.6 L1486,724.6 L1487,725.5 L1488,725.6 L1489,727 L1490,727.1 L1491,729.1 L1492,729.1 L1493,728.3 L1494,727.9 L1495,728.1 L1496,727.1 L1497,726.9 L1498,726.1 L1499,725.9 L1500,725.8 L1501,725.6 L1502,726 L1503,725.9 L1504,727 L1505,727.2 L1506,727.9 L1507,728.8 L1508,728.6 L1509,728.5 L1510,729.3 L1511,728.8 L1512,729.3 L1513,729.3 L1514,728.5 L1515,728.8 L1516,729 L1517,729.6 L1518,729.8 L1519,729.5 L1520,730.4 L1521,729.8 L1522,728.9 L1523,729.7 L1524,729.1 L1525,729.2 L1526,729.4 L1527,729.4 L1528,729.6 L1529,729.8 L1530,729.9 L1531,729.3 L1532,729.5 L1533,730 L1534,729.1 L1535,729.9 L1536,729.8 L1537,729.3 L1538,730 L1539,729.7 L1540,729.8 L1541,730.1 L1542,729.4 L1543,729 L1544,729.3 L1545,729 L1546,729.9 L1547,729.3 L1548,729.3 L1549,729.2 L1550,729.9 L1551,729.6 L1552,729.8 L1553,729.6 L1554,729.2 L1555,729.1 L1556,729.9 L1557,729.3 L1558,729.7 L1559,729 L1560,729.3 L1561,729.2 L1562,729.1 L1563,729.7 L1564,729.8 L1565,729.3 L1566,730.3 L1567,729.4 L1568,728.8 L1569,729.6 L1570,728.9 L1571,729.3 L1572,729.5 L1573,729.9 L1574,729.6 L1575,729.1 L1576,729.9 L1577,729.5 L1578,729.9 L1579,729.9 L1580,729.4 L1581,729.1 L1582,729.7 L1583,729.4 L1584,729.3 L1585,729.4" fill="none" stroke="#3c14ff" stroke-width="8" stroke-linejoin="round" stroke-linecap="butt"/>
<path d="M182,885.1 L183,884.8 L184,885.9 L185,884.8 L186,884.9 L187,885.5 L188,884.5 L189,884.6 L190,884.9 L191,884.7 L192,884.3 L193,884.7 L194,884.6 L195,884.9 L196,884 L197,884.3 L198,884.9 L199,885.1 L200,883.6 L201,884.3 L202,883.3 L203,883.1 L204,882.7 L205,882.4 L206,882.6 L207,882 L208,881.4 L209,881 L210,881 L211,881 L212,881.7 L213,881.4 L214,882.1 L215,882.5 L216,882.9 L217,883.4 L218,883.7 L219,884.4 L220,884 L221,884.8 L222,884.2 L223,884.2 L224,884.5 L225,884.6 L226,884.6 L227,885 L228,885 L229,884.7 L230,884.4 L231,884.5 L232,885.1 L233,884.6 L234,884 L235,884.3 L236,884.3 L237,885 L238,884.5 L239,885.4 L240,884.8 L241,884.6 L242,884.3 L243,884.9 L244,884.4 L245,884.2 L246,884.7 L247,884.5 L248,884.9 L249,884.4 L250,883.3 L251,884.8 L252,883.7 L253,885 L254,885.1 L255,884.2 L256,883.9 L257,883.8 L258,884.7 L259,884.3 L260,884.1 L261,884.2 L262,885.1 L263,884.4 L264,884.6 L265,884.5 L266,884.6 L267,884.6 L268,883.9 L269,884 L270,883.8 L271,883.7 L272,884.4 L273,883.7 L274,883.7 L275,883.4 L276,883.2 L277,883.4 L278,882.4 L279,881.6 L280,880.8 L281,879.2 L282,877.2 L283,874.5 L284,871.4 L285,870.5 L286,869.7 L287,870.6 L288,871.7 L289,875.5 L290,876.3 L291,879.2 L292,880.6 L293,881.5 L294,882.8 L295,882.9 L296,882.4 L297,883 L298,883.8 L299,884.6 L300,883.2 L301,883.8 L302,884.5 L303,884.1 L304,883.8 L305,883.4 L306,883.3 L307,883.7 L308,883.8 L309,883.1 L310,883.3 L311,884.1 L312,883.9 L313,883.7 L314,883.9 L315,883.7 L316,884.4 L317,884.7 L318,884.9 L319,884.3 L320,884.3 L321,884.6 L322,884.7 L323,884.6 L324,884.5 L325,883.8 L326,883.4 L327,884.4 L328,884 L329,884 L330,883.6 L331,883.5 L332,884.6 L333,884.2 L334,883.6 L335,884.1 L336,884.1 L337,884.2 L338,884.9 L339,883.9 L340,883.4 L341,884 L342,883.7 L343,884.2 L344,884 L345,884.1 L346,883.7 L347,884.1 L348,883.7 L349,884.1 L350,883.8 L351,883.4 L352,884.1 L353,883.6 L354,884.5 L355,884 L356,884.1 L357,883.9 L358,883.8 L359,882.9 L360,884.3 L361,883.5 L362,884.2 L363,883.6 L364,883.8 L365,883.7 L366,883.4 L367,883.7 L368,884 L369,883.6 L370,883.3 L371,883.5 L372,883.9 L373,884.2 L374,884.1 L375,883.9 L376,883.3 L377,884.1 L378,883.7 L379,883.6 L380,884.1 L381,884 L382,883.9 L383,883.2 L384,883.4 L385,883 L386,883.8 L387,883.7 L388,884 L389,883.7 L390,883.5 L391,884.5 L392,883.2 L393,883.1 L394,883.4 L395,883.8 L396,883.5 L397,883.4 L398,883.2 L399,884.2 L400,883.3 L401,883.2 L402,883.5 L403,883.2 L404,883.5 L405,884.1 L406,883.4 L407,883.5 L408,883.4 L409,883.5 L410,883.9 L411,883.7 L412,883.4 L413,883.1 L414,883.4 L415,883.8 L416,883.5 L417,883.4 L418,882.8 L419,883.9 L420,882.9 L421,882.9 L422,883.3 L423,883.5 L424,883.5 L425,883.1 L426,883.3 L427,883.2 L428,882.7 L429,883.3 L430,883.1 L431,883.6 L432,883.3 L433,883.8 L434,883.6 L435,883.7 L436,883.8 L437,883.6 L438,883.3 L439,883.9 L440,882.9 L441,883.3 L442,883.6 L443,883.2 L444,883.6 L445,882.9 L446,883 L447,883.5 L448,883.5 L449,883.7 L450,883.2 L451,883.3 L452,883.4 L453,883.4 L454,882.6 L455,882.9 L456,883.7 L457,882.6 L458,883.3 L459,882.8 L460,883.3 L461,882.5 L462,882.7 L463,881.8 L464,882.4 L465,882.6 L466,881.3 L467,882.1 L468,881.1 L469,881.2 L470,879.9 L471,881.4 L472,880.7 L473,881 L474,880.9 L475,881.2 L476,882.3 L477,881.9 L478,882.6 L479,882.4 L480,882.7 L481,882.5 L482,882.9 L483,883.9 L484,883.1 L485,883.1 L486,882.7 L487,883.3 L488,883.5 L489,882.3 L490,882.4 L491,883.8 L492,883.1 L493,883 L494,883.2 L495,883.4 L496,883.2 L497,882.8 L498,883.7 L499,882.9 L500,882.5 L501,882.7 L502,882.8 L503,882.7 L504,882.8 L505,883 L506,881.5 L507,882.5 L508,883.2 L509,883.1 L510,882.6 L511,882.6 L512,883.3 L513,882.7 L514,882.6 L515,883.5 L516,882.6 L517,883 L518,882.7 L519,882.8 L520,882.4 L521,882.4 L522,883.2 L523,882.3 L524,882.8 L525,882.2 L526,882.6 L527,882.6 L528,882 L529,883.1 L530,882.5 L531,883.1 L532,882.2 L533,882.9 L534,883.4 L535,882.6 L536,882.2 L537,882.6 L538,882.4 L539,882.2 L540,882.2 L541,881.9 L542,882.1 L543,881.5 L544,881 L545,881.1 L546,880 L547,880.1 L548,877.8 L549,876.2 L550,874.8 L551,873.8 L552,872.5 L552.8,872 L553,873.2 L554,872.5 L555,874.7 L556,875.6 L557,876.5 L558,879 L559,879.3 L560,879.9 L561,880.9 L562,881.9 L563,881.9 L564,882.2 L565,882.7 L566,882.1 L567,882.3 L568,882.1 L569,881.6 L570,882.2 L571,882.9 L572,881.6 L573,882.8 L574,882.4 L575,881.9 L576,882.3 L577,883 L578,882.1 L579,882.6 L580,882.7 L581,881.9 L582,882.5 L583,882.5 L584,882.1 L585,882.5 L586,882.1 L587,882 L588,881.7 L589,882.4 L590,882 L591,882 L592,881.7 L593,881.6 L594,881.8 L595,882.4 L596,881.8 L597,882.7 L598,882.2 L599,882.1 L600,881.5 L601,882.8 L602,881.4 L603,882.1 L604,882.5 L605,881.6 L606,881.3 L607,881.4 L608,881.4 L609,881.1 L610,880 L611,878.3 L612,877.1 L613,875.9 L614,873.7 L615,872.9 L616,873.4 L617,872.5 L618,874.5 L619,875 L620,876.6 L621,877.7 L622,877.9 L623,878.8 L624,879.4 L625,879.2 L626,879.3 L627,878.9 L628,879.6 L629,880.1 L630,880.8 L631,881.4 L632,880.8 L633,882 L634,881.4 L635,881.5 L636,881.2 L637,881.6 L638,881.6 L639,881.2 L640,881.6 L641,881.7 L642,881.5 L643,882 L644,881.3 L645,882 L646,881.6 L647,881.8 L648,880.8 L649,881.6 L650,881.5 L651,881.9 L652,881 L653,881.9 L654,880.9 L655,881.7 L656,881.3 L657,880.6 L658,881.5 L659,879.8 L660,879.7 L661,879.2 L662,878.5 L663,877.4 L664,876.3 L665,874.8 L666,873 L667,871 L668,869.8 L669,869.1 L670,867.6 L670.5,868 L671,867.3 L672,868.4 L673,869.2 L674,871.9 L675,872.2 L676,874.4 L677,876.2 L678,877.4 L679,878.5 L680,879.5 L681,879.9 L682,880.5 L683,880.4 L684,880.7 L685,880.2 L686,881.1 L687,881.6 L688,880.9 L689,880.7 L690,881.3 L691,881.7 L692,881.8 L693,880.7 L694,881.5 L695,881.1 L696,881.5 L697,880.5 L698,881.8 L699,881.2 L700,881.5 L701,881.3 L702,881 L703,881.6 L704,881.2 L705,881.1 L706,881.7 L707,881.4 L708,881.1 L709,881.8 L710,881.2 L711,881.4 L712,881.7 L713,881.8 L714,881.9 L715,882 L716,881.4 L717,881 L718,882 L719,881.9 L720,881.2 L721,881.6 L722,881.1 L723,880.7 L724,881.7 L725,881.4 L726,881.3 L727,881.9 L728,881.8 L729,880.9 L730,880.7 L731,880.4 L732,881.1 L733,880.9 L734,881.2 L735,881 L736,880.7 L737,880.7 L738,880.2 L739,881.3 L740,880.5 L741,880.9 L742,880.2 L743,880.4 L744,880.4 L745,879.7 L746,879 L747,879.6 L748,877.7 L749,876.9 L750,875.2 L751,873.2 L752,872.2 L753,870 L754,868.3 L755,866 L756,866.6 L757,867.3 L758,868.2 L759,869.7 L760,872.1 L761,873.5 L762,875.3 L763,876.8 L764,877.9 L765,877.9 L766,879.1 L767,879.1 L768,878.9 L769,880 L770,879.3 L771,879.9 L772,879.1 L773,879.7 L774,879.9 L775,880.1 L776,879.9 L777,879.7 L778,879.6 L779,880.5 L780,879.6 L781,879.7 L782,880.3 L783,878.6 L784,878.2 L785,878.1 L786,877.6 L787,876.3 L788,875.1 L789,873 L790,869.6 L791,866.8 L792,862.3 L793,859.3 L794,855.8 L795,854.6 L795.5,853.8 L796,853.7 L797,855.8 L798,859 L799,862.4 L800,865.9 L801,870.3 L802,873.2 L803,874.4 L804,875.9 L805,876.7 L806,877.7 L807,877.9 L808,876.9 L809,876.8 L810,876.2 L811,875.9 L812,875.6 L813,875.2 L814,874.4 L814.5,874.1 L815,874.8 L816,875.1 L817,875.3 L818,876.1 L819,876.9 L820,877.7 L821,877.9 L822,878.6 L823,878.8 L824,878.5 L825,879.4 L826,879.2 L827,879.7 L828,878.8 L829,879 L830,879.3 L831,878.5 L832,879.1 L833,878.9 L834,878.9 L835,878.8 L836,877.9 L837,878.7 L838,878.5 L839,878.7 L840,878.4 L841,877.3 L842,876.5 L843,873.6 L844,872.5 L845,869.8 L846,866.5 L847,863.5 L848,861.9 L849,862.3 L850,864.2 L851,866.1 L852,867.1 L853,866.4 L854,864.2 L855,862.8 L856,859.1 L857,856.9 L858,858.8 L859,860 L860,861 L861,861.6 L862,860.2 L863,856.7 L864,852 L865,844.4 L866,835.7 L867,824.9 L868,813.2 L869,800.6 L870,787.1 L871,776 L872,766.1 L873,762 L873.4,762.2 L874,763.3 L875,768.9 L876,778.5 L877,789.4 L878,802.8 L879,814.9 L880,827.8 L881,838.6 L882,847.2 L883,854.3 L884,860.5 L885,864.8 L886,867.7 L887,869.6 L888,871.4 L889,872.3 L890,872.7 L891,872.8 L892,871.9 L893,870.2 L894,868.8 L895,866.4 L896,862.5 L897,858.4 L898,852.8 L899,847.8 L900,841.6 L901,836.2 L902,832.6 L903,830.8 L903.2,830.5 L904,831.8 L905,835 L906,839.8 L907,845.5 L908,850.9 L909,856.7 L910,861.2 L911,864.4 L912,868.1 L913,870 L914,871.8 L915,874 L916,875.9 L917,877.2 L918,878 L919,879 L920,879 L921,879.8 L922,880.4 L923,880.2 L924,880.9 L925,881.2 L926,880.8 L927,880.2 L928,881.6 L929,881.9 L930,880.9 L931,881.7 L932,881.8 L933,881.1 L934,881.6 L935,882.4 L936,882 L937,882 L938,882.5 L939,881.8 L940,881.4 L941,882.7 L942,881.9 L943,882.2 L944,882.7 L945,882.4 L946,882.4 L947,882.1 L948,882.6 L949,883.2 L950,882.1 L951,881.9 L952,882.4 L953,881.9 L954,882.1 L955,881.9 L956,881.8 L957,881.2 L958,880.7 L959,880.3 L960,878.6 L961,878.1 L962,877.3 L963,876.2 L963.8,876.1 L964,876.4 L965,876.7 L966,878 L967,878.6 L968,880.6 L969,880.1 L970,880.9 L971,882.5 L972,881.7 L973,883.1 L974,881.1 L975,882.1 L976,882.9 L977,882.8 L978,882.2 L979,881.6 L980,881.6 L981,881.9 L982,881.7 L983,882 L984,881.5 L985,882.4 L986,882.8 L987,883.8 L988,883 L989,883.2 L990,882.7 L991,882.6 L992,882.3 L993,883.4 L994,884.1 L995,883.2 L996,882.2 L997,883.2 L998,883 L999,882.8 L1000,883.4 L1001,882.9 L1002,882.8 L1003,881.6 L1004,881.8 L1005,881.1 L1005.4,882 L1006,881.1 L1007,882.3 L1008,882.1 L1009,882.4 L1010,882.1 L1011,883.2 L1012,882.4 L1013,882.8 L1014,883.1 L1015,884.4 L1016,883.7 L1017,883.4 L1018,883.9 L1019,884.7 L1020,883.7 L1021,883.4 L1022,883.3 L1023,883.8 L1024,884.5 L1025,883.8 L1026,883.7 L1027,883.4 L1028,883.4 L1029,884.2 L1030,883.9 L1031,883.9 L1032,883.1 L1033,883.8 L1034,883.6 L1035,883.9 L1036,883.5 L1037,882.7 L1038,882.6 L1039,882.4 L1040,882 L1040.7,881.7 L1041,882.4 L1042,883 L1043,882.3 L1044,883.2 L1045,882.6 L1046,882.6 L1047,882.7 L1048,882.5 L1049,882.6 L1050,882.2 L1051,880 L1052,880.7 L1053,879.8 L1054,879.9 L1055,878.7 L1056,879.3 L1057,880.3 L1058,880.9 L1059,881.9 L1060,881.7 L1061,882.4 L1062,883.4 L1063,883 L1064,884 L1065,884.4 L1066,884.2 L1067,883.7 L1068,884 L1069,884.2 L1070,884.5 L1071,884.5 L1072,884.2 L1073,883.8 L1074,883.7 L1075,884.1 L1076,884.1 L1077,884.3 L1078,884.1 L1079,884.5 L1080,884.3 L1081,884.7 L1082,884.6 L1083,884.9 L1084,884.3 L1085,884.3 L1086,884.2 L1087,884.7 L1088,885 L1089,885.2 L1090,884.8 L1091,884.7 L1092,885 L1093,884.7 L1094,884.4 L1095,885.1 L1096,884.6 L1097,884.2 L1098,884.7 L1099,884.5 L1100,884.8 L1101,884.5 L1102,884.7 L1103,884.6 L1104,884.8 L1105,885 L1106,884.9 L1107,884.8 L1108,885.2 L1109,884.2 L1110,884.9 L1111,885.2 L1112,885 L1113,885.2 L1114,884.4 L1115,885.2 L1116,884.4 L1117,885.2 L1118,884.8 L1119,885 L1120,884.3 L1121,884.5 L1122,883.8 L1123,884.6 L1124,884.7 L1125,884.5 L1126,884.6 L1127,884.2 L1128,883.7 L1129,883.5 L1130,882.7 L1131,882.7 L1132,881.8 L1133,881.2 L1134,880.3 L1135,879.5 L1136,878.9 L1137,878.9 L1137.4,879.3 L1138,878.4 L1139,879.4 L1140,881.3 L1141,880.6 L1142,881.1 L1143,882 L1144,882.4 L1145,883 L1146,883.4 L1147,883.3 L1148,884.5 L1149,884.3 L1150,884.8 L1151,884.5 L1152,884.9 L1153,884.5 L1154,885.8 L1155,885 L1156,885.1 L1157,884.6 L1158,884 L1159,884.5 L1160,884.8 L1161,884.7 L1162,884.4 L1163,884.3 L1164,884.1 L1165,884.4 L1166,884.8 L1167,884.7 L1168,884.6 L1169,884.1 L1170,884.1 L1171,883.9 L1172,883.8 L1173,883.5 L1174,883.5 L1175,883 L1176,883 L1177,883.6 L1178,883.7 L1179,882.6 L1180,883.7 L1181,883.9 L1182,884.3 L1183,883.3 L1184,883.6 L1185,884.2 L1186,884.4 L1187,884 L1188,884.9 L1189,884.9 L1190,884.7 L1191,884.8 L1192,884 L1193,884.4 L1194,883.5 L1195,884.8 L1196,884.8 L1197,884.5 L1198,883.9 L1199,884.2 L1200,884.5 L1201,883.5 L1202,884 L1203,883.9 L1204,883 L1205,882.6 L1206,882.6 L1207,881.4 L1208,880.3 L1209,878.3 L1210,876 L1211,874.5 L1212,872.8 L1213,872 L1213.5,872.2 L1214,872.7 L1215,873.1 L1216,875.3 L1217,875.9 L1218,878.1 L1219,879.8 L1220,880.2 L1221,881.4 L1222,882.7 L1223,883.4 L1224,883.8 L1225,883.9 L1226,883.9 L1227,883.6 L1228,884.2 L1229,884.9 L1230,884.5 L1231,884.1 L1232,884.4 L1233,884.5 L1234,884.9 L1235,884.2 L1236,884.6 L1237,884.6 L1238,884.3 L1239,884.4 L1240,884.2 L1241,884.4 L1242,884.4 L1243,883.8 L1244,884.2 L1245,884.7 L1246,884.1 L1247,883.3 L1248,884.6 L1249,883.9 L1250,884.2 L1251,884.4 L1252,884.1 L1253,883.9 L1254,884.1 L1255,884.5 L1256,884.4 L1257,884.4 L1258,885.3 L1259,884.6 L1260,884.9 L1261,885.3 L1262,884.6 L1263,884.3 L1264,884.4 L1265,884.5 L1266,885.2 L1267,884.9 L1268,884.4 L1269,884.3 L1270,884.8 L1271,885.2 L1272,884.2 L1273,885.1 L1274,884.6 L1275,884.4 L1276,884.3 L1277,884.1 L1278,884.2 L1279,884.9 L1280,883.8 L1281,884.2 L1282,884.3 L1283,883.8 L1284,884.1 L1285,883.7 L1286,884.4 L1287,884.3 L1288,883.4 L1289,884.4 L1290,883.2 L1291,882.5 L1292,882 L1293,882.3 L1294,880.5 L1295,880.5 L1296,879.8 L1297,879.4 L1298,878.4 L1298.5,879 L1299,878.4 L1300,879.3 L1301,879.2 L1302,880.5 L1303,881 L1304,881.9 L1305,883.2 L1306,882.8 L1307,883 L1308,883.2 L1309,883.3 L1310,882.3 L1311,883.3 L1312,882.2 L1313,881.5 L1314,881.7 L1315,880.3 L1316,879.7 L1317,878.5 L1318,876.1 L1319,873.4 L1320,871.4 L1321,869.7 L1322,866.8 L1323,866.1 L1323.8,865.6 L1324,864.6 L1325,866.2 L1326,867 L1327,870.1 L1328,872.6 L1329,874.7 L1330,876.3 L1331,878.6 L1332,880.1 L1333,881.5 L1334,882 L1335,882.8 L1336,882.9 L1337,882.6 L1338,883.5 L1339,884.2 L1340,883.4 L1341,883.4 L1342,883.1 L1343,884.7 L1344,883.5 L1345,884.4 L1346,884.1 L1347,884 L1348,884.1 L1349,884.9 L1350,884.8 L1351,884.4 L1352,884 L1353,884.8 L1354,884.5 L1355,884.3 L1356,884.4 L1357,883.9 L1358,884.5 L1359,884.2 L1360,884.2 L1361,883.8 L1362,884.3 L1363,884.5 L1364,883.7 L1365,884.4 L1366,884.5 L1367,884.8 L1368,884.8 L1369,884.1 L1370,884.8 L1371,884.5 L1372,884.2 L1373,884 L1374,884.7 L1375,884.6 L1376,884.1 L1377,884.4 L1378,884.2 L1379,884 L1380,884 L1381,884.6 L1382,884.4 L1383,884.5 L1384,884.4 L1385,884.3 L1386,884.7 L1387,883.7 L1388,884.6 L1389,883.9 L1390,884.2 L1391,884.4 L1392,884.3 L1393,884.5 L1394,883.9 L1395,885 L1396,884.7 L1397,884.5 L1398,884.6 L1399,884.1 L1400,883.6 L1401,883.7 L1402,884.5 L1403,883.2 L1404,884.9 L1405,884.4 L1406,883.9 L1407,884 L1408,883.6 L1409,884.2 L1410,884.4 L1411,884.7 L1412,883.7 L1413,884.6 L1414,884.3 L1415,884.1 L1416,884.2 L1417,884.3 L1418,884.8 L1419,884.7 L1420,884.3 L1421,883.6 L1422,883.7 L1423,884 L1424,883.5 L1425,882.7 L1426,883.3 L1427,883 L1428,881.6 L1429,880.7 L1430,880.3 L1431,879.6 L1431.4,879.5 L1432,880.2 L1433,880.3 L1434,881.3 L1435,882.7 L1436,882.3 L1437,882.7 L1438,883.2 L1439,883.6 L1440,884.2 L1441,883.9 L1442,884.3 L1443,883.6 L1444,883.7 L1445,884 L1446,884.5 L1447,883.7 L1448,884.6 L1449,883.8 L1450,884.2 L1451,884.1 L1452,884.8 L1453,883.8 L1454,883.8 L1455,884 L1456,884.4 L1457,884.4 L1458,883.7 L1459,883.8 L1460,883.6 L1461,884.8 L1462,884.3 L1463,884.4 L1464,883.3 L1465,884.2 L1466,884 L1467,884.5 L1468,883.4 L1469,884.6 L1470,884.3 L1471,884.2 L1472,883.4 L1473,884.6 L1474,883.8 L1475,883.5 L1476,883.1 L1477,882.6 L1478,882.2 L1479,881.6 L1480,881.3 L1481,880.4 L1482,879.5 L1483,879.6 L1484,880.1 L1485,879.9 L1486,880.8 L1487,881.9 L1488,882.3 L1489,882.4 L1490,883.3 L1491,883.7 L1492,883.8 L1493,883.7 L1494,884.4 L1495,883.1 L1496,883.7 L1497,883.7 L1498,882.9 L1499,882.8 L1500,882.5 L1501,882.6 L1502,882.2 L1503,882.3 L1503.7,882.5 L1504,881.8 L1505,882.2 L1506,882.6 L1507,881.9 L1508,882.9 L1509,882.6 L1510,883.2 L1511,883.3 L1512,884.2 L1513,883.6 L1514,883.7 L1515,884.2 L1516,883.9 L1517,883.5 L1518,884.4 L1519,884.4 L1520,883.9 L1521,883.4 L1522,883.8 L1523,883.7 L1524,884.7 L1525,883.8 L1526,884.3 L1527,884.5 L1528,884.2 L1529,884.2 L1530,884.6 L1531,884.4 L1532,883.4 L1533,884.5 L1534,883.2 L1535,883.8 L1536,884.4 L1537,883.3 L1538,884.5 L1539,884.9 L1540,883.9 L1541,883.3 L1542,884.7 L1543,883.6 L1544,883.5 L1545,883.6 L1546,883.8 L1547,883.7 L1548,884.8 L1549,883.6 L1550,883.3 L1551,883.4 L1552,883.8 L1553,884.7 L1554,883.4 L1555,883.9 L1556,884.3 L1557,883.9 L1558,883.9 L1559,883.8 L1560,884.1 L1561,883.7 L1562,884.6 L1563,883.3 L1564,884.3 L1565,884.4 L1566,884 L1567,883.8 L1568,884.5 L1569,883.6 L1570,883.9 L1571,883.6 L1572,884.1 L1573,883.6 L1574,883.7 L1575,884.2 L1576,884 L1577,884.1 L1578,884.6 L1579,883.2 L1580,883.7 L1581,884 L1582,884.5 L1583,883.5 L1584,883.9 L1585,884.2" fill="none" stroke="#8000ff" stroke-width="8" stroke-linejoin="round" stroke-linecap="butt"/>
<path d="M182,1029.3 L183,1031.5 L184,1030.5 L185,1028.1 L186,1024.8 L187,1031.9 L188,1032.4 L189,1026.8 L190,1033.4 L191,1029.1 L192,1035.5 L193,1031.3 L194,1029.3 L195,1032.6 L196,1030.2 L197,1030.3 L198,1030.2 L199,1029.7 L200,1031.3 L201,1031.7 L202,1030.7 L203,1033.8 L204,1027.1 L205,1029 L206,1031.7 L207,1027.5 L208,1033.3 L209,1031.5 L210,1029.6 L211,1031.1 L212,1028.8 L213,1026.9 L214,1031.8 L215,1032 L216,1030.2 L217,1029.9 L218,1025.5 L219,1028.2 L220,1029 L221,1030.5 L222,1032.9 L223,1028.9 L224,1028.4 L225,1032 L226,1029.7 L227,1027.1 L228,1032.5 L229,1028.2 L230,1028.8 L231,1027.8 L232,1030.7 L233,1032.2 L234,1029.2 L235,1030.8 L236,1029 L237,1034.9 L238,1033.1 L239,1028.7 L240,1031.1 L241,1032 L242,1030.9 L243,1028.4 L244,1029.6 L245,1031.5 L246,1030.9 L247,1028.2 L248,1030.9 L249,1027.8 L250,1025.5 L251,1030.3 L252,1032 L253,1030.9 L254,1033 L255,1033.6 L256,1030.7 L257,1028.6 L258,1029.8 L259,1026.9 L260,1029.9 L261,1029.7 L262,1030.3 L263,1032.2 L264,1025.4 L265,1031.5 L266,1028.7 L267,1031.5 L268,1030.2 L269,1027.6 L270,1031.5 L271,1028.1 L272,1030.6 L273,1027.9 L274,1027.1 L275,1023.8 L276,1016.4 L277,1005.5 L278,1005.7 L279,1013.7 L280,1014.9 L281,1013.5 L282,1004.4 L282.3,1006.4 L283,1008.7 L284,1012.4 L285,1013.6 L286,1014.6 L287,1006.8 L287.5,1004.2 L288,1003.9 L289,1007.3 L290,1013.5 L291,1022.3 L292,1023.7 L293,1022.6 L294,1028.9 L295,1027.5 L296,1033.7 L297,1028.4 L298,1029.1 L299,1029.7 L300,1029.9 L301,1029.2 L302,1028.2 L303,1025.8 L304,1023.8 L305,1024.5 L306,1023.6 L307,1025.9 L308,1026.4 L309,1027.6 L310,1028.1 L311,1029 L312,1030.5 L313,1029 L314,1029.9 L315,1030.3 L316,1029.1 L317,1029.5 L318,1030.5 L319,1026.2 L320,1031.2 L321,1028.8 L322,1022 L323,1030.9 L324,1027.2 L325,1031.4 L326,1027 L327,1027.3 L328,1027.4 L329,1023.3 L330,1023.1 L331,1025.5 L332,1029.4 L333,1029.6 L334,1031 L335,1029.4 L336,1030.1 L337,1031.6 L338,1030.7 L339,1028 L340,1031.4 L341,1028.7 L342,1028.1 L343,1030.1 L344,1029.7 L345,1031.7 L346,1030.4 L347,1028.9 L348,1029.7 L349,1028.6 L350,1029.2 L351,1032.5 L352,1030.7 L353,1029 L354,1029.1 L355,1028.5 L356,1029.3 L357,1026.4 L358,1030.5 L359,1027.8 L360,1028.3 L361,1026.5 L362,1022.8 L363,1018.9 L364,1018.6 L365,1023.6 L366,1024.5 L367,1020.9 L368,1022.9 L369,1028.2 L370,1027 L371,1031.9 L372,1029.3 L373,1030.6 L374,1028.9 L375,1028.3 L376,1026.4 L377,1023.9 L378,1032 L379,1031.4 L380,1028.7 L381,1032 L382,1026.7 L383,1033.1 L384,1030.8 L385,1033.3 L386,1026.3 L387,1032.8 L388,1031.8 L389,1030.6 L390,1028 L391,1030.6 L392,1030.4 L393,1028.6 L394,1027 L395,1027.6 L396,1028.8 L397,1032.3 L398,1032.4 L399,1033.4 L400,1030.9 L401,1026.8 L402,1028.3 L403,1027.4 L404,1029.3 L405,1032.7 L406,1029.5 L407,1028.9 L408,1030.9 L409,1031.3 L410,1031.7 L411,1027.6 L412,1027.4 L413,1027.4 L414,1028.4 L415,1024.9 L416,1020.1 L417,1025 L418,1020.1 L419,1021.6 L420,1022.5 L421,1022 L422,1024.8 L423,1026 L424,1027.4 L425,1028.3 L426,1027.1 L427,1026.7 L428,1031.3 L429,1028.8 L430,1031.8 L431,1030.5 L432,1035.3 L433,1029.5 L434,1026.2 L435,1029.1 L436,1032.3 L437,1033.8 L438,1033.5 L439,1031.2 L440,1033.2 L441,1027.7 L442,1028.6 L443,1027.8 L444,1030.9 L445,1032.1 L446,1028.4 L447,1027.2 L448,1023.4 L448.5,1023.3 L449,1024.4 L450,1027.9 L451,1026.4 L452,1027.5 L453,1029.6 L454,1029.5 L455,1027.2 L456,1032.8 L457,1029.2 L458,1029.7 L459,1029.6 L460,1031.1 L461,1029.4 L462,1030.7 L463,1033.5 L464,1028.3 L465,1026 L466,1032.6 L467,1030.5 L468,1031.4 L469,1031.4 L470,1029.2 L471,1030.3 L472,1026.4 L473,1029.8 L474,1030.1 L475,1027.5 L476,1028.5 L477,1029.7 L478,1030.6 L479,1029.6 L480,1032.9 L481,1031.5 L482,1031.7 L483,1026.3 L484,1029.1 L485,1030.4 L486,1029.2 L487,1030.4 L488,1028.8 L489,1028.2 L490,1029.9 L491,1030.1 L492,1029.3 L493,1029.9 L494,1032 L495,1031 L496,1031.7 L497,1031.2 L498,1030.2 L499,1029.3 L500,1033.8 L501,1030.3 L502,1031.7 L503,1028.7 L504,1027 L505,1027.5 L506,1029.4 L507,1027.6 L508,1031.7 L509,1029.2 L510,1029.1 L511,1033.4 L512,1029.3 L513,1029.1 L514,1035.7 L515,1030.9 L516,1030.3 L517,1029.1 L518,1032.7 L519,1032.5 L520,1025 L521,1030 L522,1030.6 L523,1031.2 L524,1027.4 L525,1030 L526,1033.6 L527,1032.4 L528,1027.9 L529,1030.7 L530,1028.5 L531,1031.7 L532,1023.8 L533,1031.7 L534,1030.3 L535,1031.7 L536,1026 L537,1021.2 L538,1000.9 L538.5,999.2 L539,999.7 L540,1010 L541,1016.2 L542,1017.1 L543,1026.7 L544,1028.4 L545,1031.2 L546,1030.8 L547,1027.9 L548,1029 L549,1032.1 L550,1028.2 L551,1030.1 L552,1027.6 L553,1032.1 L554,1032 L555,1029.1 L556,1024.7 L557,1021.2 L558,1018.8 L559,1019.1 L560,1022.1 L561,1020.5 L562,1022.9 L563,1025.2 L564,1030.1 L565,1026.5 L566,1029.7 L567,1031.4 L568,1026.6 L569,1025.7 L570,1025.8 L571,1030.8 L572,1030.5 L573,1029.3 L574,1027.6 L575,1029.9 L576,1026.5 L577,1030.7 L578,1029.8 L579,1029.7 L580,1032.7 L581,1027.5 L582,1027.4 L583,1030.6 L584,1032 L585,1027.6 L586,1027.4 L587,1029.2 L588,1030.6 L589,1027.2 L590,1029.1 L591,1027.4 L592,1016.9 L593,1012.8 L594,1019.2 L595,1013.6 L596,1021.2 L597,1023.5 L598,1020.5 L599,1027 L600,1030.1 L601,1027.1 L602,1023.7 L603,1027.3 L604,1033.2 L605,1027.1 L606,1031.5 L607,1026.7 L608,1028.4 L609,1027.9 L610,1029.2 L611,1030.5 L612,1029.6 L613,1027.6 L614,1029.2 L615,1028.9 L616,1028.3 L617,1027.6 L618,1026.7 L619,1026.3 L620,1014 L621,965 L621.5,953.4 L622,953.5 L623,970.1 L624,995.4 L625,1008.8 L626,1020.8 L627,1026.7 L628,1025.8 L629,1030.2 L630,1029.9 L631,1029.9 L632,1027.1 L633,1029.3 L634,1025.1 L635,1029.4 L636,1029.6 L637,1028.5 L638,1030.1 L639,1026.5 L640,1027.9 L641,1026.1 L642,1028.8 L643,1026.1 L644,1027.1 L645,1022.2 L646,1025.1 L647,1024.7 L648,1026.2 L649,1028.1 L650,1030.7 L651,1030.9 L652,1025.9 L653,1030.1 L654,1027.1 L655,1030 L656,1027.7 L657,1031.5 L658,1031.2 L659,1029.7 L660,1027.5 L661,1026.3 L662,1026.7 L663,1029 L664,1030.9 L665,1031.6 L666,1031.8 L667,1027.7 L668,1029.5 L669,1031.5 L670,1030.8 L671,1029.4 L672,1027 L673,1033.4 L674,1029.5 L675,1026.3 L676,1030.4 L677,1030.2 L678,1029.3 L679,1029.5 L680,1027.1 L681,1032.4 L682,1029.5 L683,1025.7 L684,1029.1 L685,1024.1 L686,1030.1 L687,1028.1 L688,1030.4 L689,1031.3 L690,1029.7 L691,1034.8 L692,1030.2 L693,1031.2 L694,1030 L695,1029.4 L696,1028.4 L697,1032.3 L698,1031.5 L699,1033.2 L700,1028.8 L701,1028.5 L702,1029.6 L703,1030.2 L704,1029.8 L705,1026.1 L706,1029.8 L707,1030.5 L708,1031 L709,1029.4 L710,1030 L711,1032.4 L712,1032.6 L713,1030.2 L714,1030 L715,1030.1 L716,1031.8 L717,1030.4 L718,1030.3 L719,1032.9 L720,1028.7 L721,1027.7 L722,1029.3 L723,1032.8 L724,1027.1 L725,1007.7 L726,995.8 L727,998.7 L728,1008.2 L729,1013.7 L730,1022 L731,1025.7 L732,1030.1 L733,1027.2 L734,1027.5 L735,1026.4 L736,1031.2 L737,1028.9 L738,1031.3 L739,1029.6 L740,1031.1 L741,1028.2 L742,1031.2 L743,1028.9 L744,1028.5 L745,1032.1 L746,1027.5 L747,1030.3 L748,1030.8 L749,1030.6 L750,1030.3 L751,1032.2 L752,1028.8 L753,1033.3 L754,1033.2 L755,1030.8 L756,1030 L757,1027.8 L758,1028.3 L759,1028.7 L760,1030.6 L761,1033.5 L762,1026.9 L763,1032.1 L764,1030.6 L765,1031 L766,1030.6 L767,1028.8 L768,1029.5 L769,1030.4 L770,1032.7 L771,1029.7 L772,1033.1 L773,1032.6 L774,1029.8 L775,1031 L776,1032.9 L777,1027.8 L778,1028.6 L779,1032 L780,1031.9 L781,1028.8 L782,1028.2 L783,1031.3 L784,1032.9 L785,1029.2 L786,1028.3 L787,1032.5 L788,1031.9 L789,1027.6 L790,1028.2 L791,1029.5 L792,1032.1 L793,1031.4 L794,1029.8 L795,1025.7 L796,1034.4 L797,1027.2 L798,1030.2 L799,1016.3 L800,976.8 L800.5,966.4 L801,965.9 L802,978.5 L803,996.5 L804,1009.7 L805,1020.7 L806,1021.5 L807,1026.2 L808,1022.5 L809,1003 L810,1000.1 L811,1005.6 L812,1007.9 L813,1010.8 L814,1015.4 L815,1020.5 L816,1021.8 L817,1026.6 L818,1029.6 L819,1030.7 L820,1032.5 L821,1029.6 L822,1030.3 L823,1025.9 L824,1029 L825,1027.6 L826,1032.1 L827,1033.7 L828,1028.9 L829,1028.8 L830,1028.5 L831,1029.4 L832,1027.8 L833,1031.3 L834,1028.6 L835,1032.1 L836,1029.2 L837,1018.1 L838,983.2 L838.8,962.8 L839,960.5 L840,968.5 L841,989.9 L842,1004.4 L843,1012.2 L844,998.8 L845,1004.2 L846,1009.7 L847,1024.2 L848,1026.7 L849,1026.5 L850,1022.3 L851,1014.7 L851.5,1014 L852,1013.3 L853,1014.9 L854,1020.4 L855,1019.1 L856,1025.2 L857,1027.2 L858,1027.3 L859,1028.7 L860,1030.9 L861,1029.2 L862,1026.6 L863,1030.2 L864,1031.6 L865,1031.5 L866,1030.7 L867,1030.7 L868,1026.1 L869,1017.6 L870,1020.5 L871,1019.3 L872,1023.1 L873,1025.5 L874,1024.2 L875,1028.7 L876,1025.1 L877,1029.9 L878,1027.1 L879,1027.9 L880,1027.1 L881,1030.3 L882,1033 L883,1028.6 L884,1029.1 L885,1030.9 L886,1028.1 L887,1029.8 L888,1029.1 L889,1027.6 L890,1026.7 L891,1031.3 L892,1028.5 L893,1026.4 L894,1028.6 L895,1017.4 L896,976.9 L897,919.4 L897.3,916.2 L898,920.3 L899,943.6 L900,967 L901,987.4 L902,983.6 L903,959.4 L904,971.1 L905,998.7 L906,1015.5 L907,1020.5 L908,1023 L909,1026.8 L910,1025.6 L911,1024.6 L912,1011.8 L913,987.3 L913.2,982.2 L914,993.4 L915,998.4 L916,1011.2 L917,1021.1 L918,1023.6 L919,1019.8 L920,1009.7 L920.5,1003.8 L921,1007.6 L922,1012.8 L923,1016 L924,1024.1 L925,1028.5 L926,1026.9 L927,1030.5 L928,1029.5 L929,1031.7 L930,1028.9 L931,1026.5 L932,1031.7 L933,1031.2 L934,1030.7 L935,1028 L936,1028.7 L937,1030.7 L938,1030.1 L939,1028.3 L940,1029.7 L941,1031.2 L942,1028.5 L943,1029.7 L944,1028.5 L945,1031.9 L946,1029.8 L947,1030 L948,1032 L949,1030.9 L950,1029.1 L951,1032.3 L952,1027.2 L953,1027.5 L954,1030.8 L955,1029.7 L956,1032.5 L957,1030.5 L958,1030.4 L959,1032.2 L960,1029 L961,1027.2 L962,1031.5 L963,1028.6 L964,1031 L965,1028.4 L966,1029.8 L967,1029.2 L968,1028.4 L969,1028.8 L970,1031 L971,1029.9 L972,1031.2 L973,1028.3 L974,1028.5 L975,1027.5 L976,1028.1 L977,1029.8 L978,1029.7 L979,1030.8 L980,1032 L981,1031 L982,1029.4 L983,1028 L984,1032.9 L985,1030.7 L986,1023.7 L987,1029.1 L988,1029.3 L989,1023.9 L990,1022.1 L991,1017.6 L991.8,1017.6 L992,1016.6 L993,1018.3 L994,1018.3 L995,1020.7 L996,1020.2 L997,1023.8 L998,1023.4 L999,1021.9 L1000,1027 L1001,1027.9 L1002,1026.4 L1003,1031.4 L1004,1028.2 L1005,1030.7 L1006,1028.7 L1007,1029.9 L1008,1030.4 L1009,1031.7 L1010,1028.4 L1011,1027.2 L1012,1033 L1013,1029.9 L1014,1034.4 L1015,1029.6 L1016,1026.8 L1017,1030.6 L1018,1031.4 L1019,1030.5 L1020,1029.1 L1021,1030.7 L1022,1027.3 L1023,1027 L1024,1029.7 L1025,1031.3 L1026,1025.2 L1027,1030.5 L1028,1029.1 L1029,1028 L1030,1030.2 L1031,1029.7 L1032,1030 L1033,1031.3 L1034,1030.8 L1035,1032 L1036,1031.9 L1037,1028.5 L1038,1029.6 L1039,1025.5 L1040,1028.5 L1041,1026.3 L1042,1027.4 L1043,1027.2 L1044,1026.1 L1045,1020.9 L1046,1023.2 L1047,1016.9 L1048,1014 L1049,1021.8 L1050,1018.9 L1051,1020.2 L1052,1024 L1053,1022.7 L1054,1028.3 L1055,1030.4 L1056,1030.2 L1057,1028.5 L1058,1027.7 L1059,1030.5 L1060,1031.3 L1061,1030.5 L1062,1030.2 L1063,1032.6 L1064,1029.9 L1065,1027.5 L1066,1027 L1067,1030.6 L1068,1033.1 L1069,1030.1 L1070,1029.4 L1071,1028.7 L1072,1032.3 L1073,1027 L1074,1028.5 L1075,1033 L1076,1029.4 L1077,1029.8 L1078,1032.9 L1079,1032.6 L1080,1030.8 L1081,1032.7 L1082,1026 L1083,1027.8 L1084,1030.1 L1085,1027.9 L1086,1028.6 L1087,1028.1 L1088,1030.2 L1089,1028.3 L1090,1032 L1091,1030.1 L1092,1032.7 L1093,1026.8 L1094,1025.7 L1095,1029.7 L1096,1029.9 L1097,1031.4 L1098,1031.5 L1099,1028.8 L1100,1032.1 L1101,1029.4 L1102,1029.3 L1103,1031.9 L1104,1031.5 L1105,1030.2 L1106,1030.2 L1107,1034.2 L1108,1029.5 L1109,1030 L1110,1030.2 L1111,1028.6 L1112,1032.6 L1113,1033.4 L1114,1030.9 L1115,1026.1 L1116,1026.1 L1117,1030 L1118,1028.2 L1119,1028.4 L1120,1029.1 L1121,1028.3 L1122,1028.9 L1123,1029.5 L1124,1030.5 L1125,1030.1 L1126,1030.1 L1127,1024.3 L1128,1028.3 L1129,1032.3 L1130,1032 L1131,1033.3 L1132,1028 L1133,1028.3 L1134,1029.2 L1135,1031.7 L1136,1029.4 L1137,1030.2 L1138,1029.6 L1139,1029.7 L1140,1028.3 L1141,1031 L1142,1023.2 L1143,1029.3 L1144,1028 L1145,1029.8 L1146,1031.4 L1147,1028.6 L1148,1031.5 L1149,1029.2 L1150,1030 L1151,1028.6 L1152,1028.8 L1153,1029.6 L1154,1023.3 L1155,1022.2 L1155.5,1021.7 L1156,1020.7 L1157,1021.6 L1158,1027.1 L1159,1024.9 L1160,1027.3 L1161,1026.9 L1162,1031.2 L1163,1028.6 L1164,1028.7 L1165,1032.8 L1166,1026.4 L1167,1027 L1168,1027.7 L1169,1026.5 L1170,1029.2 L1171,1030.1 L1172,1032.3 L1173,1024.6 L1174,1031.5 L1175,1032.6 L1176,1027.8 L1177,1030.3 L1178,1033 L1179,1027.9 L1180,1029.8 L1181,1029.9 L1182,1028.7 L1183,1029.5 L1184,1028.1 L1185,1026.7 L1186,1030.9 L1187,1029.4 L1188,1031.3 L1189,1028.9 L1190,1028.1 L1191,1027.4 L1192,1027.2 L1193,1028.1 L1194,1030.1 L1195,1030.7 L1196,1030.4 L1197,1028 L1198,1029.8 L1199,1032.3 L1200,1028.1 L1201,1023.7 L1202,1012.5 L1202.5,1010.1 L1203,1006.3 L1204,1013.3 L1205,1020.5 L1206,1022.1 L1207,1027.5 L1208,1028.3 L1209,1028.8 L1210,1029.1 L1211,1029.5 L1212,1027.5 L1213,1026.4 L1214,1029.6 L1215,1028.9 L1216,1027.1 L1217,1020.2 L1218,1022.4 L1219,1022.5 L1220,1023 L1221,1026.6 L1222,1026.7 L1223,1028 L1224,1027.2 L1225,1026.8 L1226,1028.3 L1227,1031.9 L1228,1030.3 L1229,1030.9 L1230,1028.5 L1231,1026.7 L1232,1030.7 L1233,1028.5 L1234,1027.9 L1235,1027.6 L1236,1031.2 L1237,1032 L1238,1032.2 L1239,1033.6 L1240,1028.1 L1241,1028.2 L1242,1027.7 L1243,1033.1 L1244,1027.2 L1245,1029.9 L1246,1031.2 L1247,1025.4 L1248,1031.4 L1249,1031.9 L1250,1029.8 L1251,1027.6 L1252,1031.6 L1253,1030.5 L1254,1032 L1255,1028.5 L1256,1025.6 L1257,1029.5 L1258,1030.9 L1259,1026.3 L1260,1027.6 L1261,1026.7 L1262,1030.8 L1263,1025.1 L1264,1031.5 L1265,1026 L1266,1028.2 L1267,1023.9 L1267.8,1022.4 L1268,1022.9 L1269,1025 L1270,1023.6 L1271,1025.9 L1272,1025.4 L1273,1027.6 L1274,1027.9 L1275,1030.8 L1276,1025.7 L1277,1029.7 L1278,1029.8 L1279,1027.6 L1280,1027.1 L1281,1029.5 L1282,1031.1 L1283,1029.9 L1284,1030.7 L1285,1025.6 L1286,1032.6 L1287,1031.2 L1288,1028 L1289,1026.7 L1290,1030 L1291,1030.5 L1292,1028.8 L1293,1028.2 L1294,1030 L1295,1029.5 L1296,1030.9 L1297,1031.6 L1298,1028.5 L1299,1030.7 L1300,1027.2 L1301,1031.7 L1302,1025.6 L1303,1027.2 L1304,1026.8 L1305,1027.5 L1306,1019.8 L1307,1019.5 L1307.5,1017.4 L1308,1018.5 L1309,1021.3 L1310,1018.4 L1311,1021.2 L1312,1027.6 L1313,1026.7 L1314,1023.7 L1315,1029.7 L1316,1028.3 L1317,1029.4 L1318,1030.8 L1319,1027.8 L1320,1031.2 L1321,1030.4 L1322,1026.8 L1323,1026.5 L1324,1030 L1325,1030.9 L1326,1026.8 L1327,1031 L1328,1029.8 L1329,1031.6 L1330,1030.2 L1331,1023.5 L1332,1026.6 L1333,1018.8 L1334,1020.1 L1335,1020.1 L1336,1022.2 L1337,1024.4 L1338,1025.4 L1339,1026.5 L1340,1026.9 L1341,1025.9 L1342,1030.6 L1343,1029.7 L1344,1031.9 L1345,1028.4 L1346,1028.5 L1347,1029 L1348,1032.3 L1349,1029.2 L1350,1030.3 L1351,1030.7 L1352,1031.6 L1353,1026.1 L1354,1030.2 L1355,1027.8 L1356,1030.2 L1357,1029.9 L1358,1028.6 L1359,1028.3 L1360,1031.6 L1361,1027.7 L1362,1031.3 L1363,1031.6 L1364,1029.3 L1365,1029.1 L1366,1028.1 L1367,1026.4 L1368,1029.5 L1369,1028.4 L1370,1033.8 L1371,1027.8 L1372,1030 L1373,1030.9 L1374,1032.7 L1375,1031 L1376,1029.9 L1377,1031 L1378,1028.8 L1379,1024.3 L1380,1022.5 L1381,1020.5 L1382,1022 L1383,1019.7 L1384,1023.8 L1385,1025.4 L1386,1028.5 L1387,1024.7 L1388,1030.1 L1389,1031.3 L1390,1030.8 L1391,1029.6 L1392,1031.6 L1393,1029.2 L1394,1032.7 L1395,1027.3 L1396,1030 L1397,1028.2 L1398,1032.3 L1399,1031.6 L1400,1032.3 L1401,1029.8 L1402,1031.1 L1403,1029.6 L1404,1026.7 L1405,1030.9 L1406,1029.7 L1407,1028.5 L1408,1026 L1409,1030.6 L1410,1028.8 L1411,1026 L1412,1027.5 L1413,1029.7 L1414,1029.5 L1415,1030.2 L1416,1032.8 L1417,1028.2 L1418,1027.1 L1419,1027.3 L1420,1025.9 L1421,1030.5 L1422,1030.8 L1423,1034.3 L1424,1030.3 L1425,1030.6 L1426,1027.6 L1427,1027.7 L1428,1031.5 L1429,1031.6 L1430,1029.7 L1431,1027.8 L1432,1030.4 L1433,1030.3 L1434,1028.2 L1435,1030.6 L1436,1027.8 L1437,1027.3 L1438,1027.7 L1439,1027.8 L1440,1027.7 L1441,1018.1 L1442,1009.5 L1443,1010.2 L1444,1011.1 L1445,1020.3 L1446,1023.4 L1447,1029.2 L1448,1030.4 L1449,1029.3 L1450,1026.7 L1451,1028.4 L1452,1029.3 L1453,1031.1 L1454,1033.1 L1455,1027.4 L1456,1029.5 L1457,1026.1 L1458,1025.4 L1459,1032.2 L1460,1029.2 L1461,1029.7 L1462,1032 L1463,1029.8 L1464,1031.1 L1465,1029.2 L1466,1030.1 L1467,1031.4 L1468,1028.4 L1469,1024.5 L1470,1031.9 L1471,1028 L1472,1032.4 L1473,1032.9 L1474,1032.2 L1475,1028.8 L1476,1025.2 L1477,1030.3 L1478,1032.3 L1479,1029.4 L1480,1027.8 L1481,1029.7 L1482,1032.9 L1483,1030.7 L1484,1031.1 L1485,1031.5 L1486,1028.6 L1487,1030.2 L1488,1030 L1489,1026.6 L1490,1023.8 L1491,1027 L1492,1028.4 L1493,1027.4 L1494,1026.4 L1495,1029 L1496,1029.3 L1497,1029.2 L1498,1027.5 L1499,1028.5 L1500,1032 L1501,1029.3 L1502,1031.7 L1503,1029.9 L1504,1027.9 L1505,1027.8 L1506,1029 L1507,1028.3 L1508,1029.2 L1509,1033.4 L1510,1030.6 L1511,1027.6 L1512,1021.9 L1513,1026.3 L1514,1024 L1515,1025.8 L1516,1027.4 L1517,1028.2 L1518,1026.2 L1519,1031.7 L1520,1029.2 L1521,1034.1 L1522,1029.6 L1523,1031 L1524,1029.4 L1525,1031.9 L1526,1027.1 L1527,1027.9 L1528,1027.8 L1529,1029.7 L1530,1031.9 L1531,1028.5 L1532,1031.9 L1533,1030.1 L1534,1031 L1535,1031.9 L1536,1029 L1537,1026.8 L1538,1026 L1539,1028.2 L1540,1032.3 L1541,1027 L1542,1030.9 L1543,1030.7 L1544,1032.3 L1545,1027.8 L1546,1031.1 L1547,1028.6 L1548,1031.3 L1549,1030 L1550,1029.4 L1551,1032.9 L1552,1029.9 L1553,1033.3 L1554,1033.1 L1555,1031.3 L1556,1031.5 L1557,1030.5 L1558,1029 L1559,1028.6 L1560,1030.3 L1561,1028.4 L1562,1030.4 L1563,1031.7 L1564,1031.5 L1565,1025.6 L1566,1028.7 L1567,1031.5 L1568,1028.7 L1569,1030 L1570,1025.1 L1571,1029.9 L1572,1031.2 L1573,1029 L1574,1030.3 L1575,1028.5 L1576,1027.4 L1577,1030.7 L1578,1026.6 L1579,1028.3 L1580,1030.4 L1581,1033 L1582,1029 L1583,1034.4 L1584,1028.2 L1585,1026.7" fill="none" stroke="#000000" stroke-width="8" stroke-linejoin="round" stroke-linecap="butt"/>
<line x1="558.8" y1="1186.7" x2="558.8" y2="1199.5" stroke="#808080" stroke-width="6" stroke-linecap="butt"/>
<line x1="867.4" y1="1061.7" x2="867.4" y2="1199.5" stroke="#808080" stroke-width="6" stroke-linecap="butt"/>
<line x1="1107.6" y1="1194" x2="1107.6" y2="1199.5" stroke="#808080" stroke-width="6" stroke-linecap="butt"/>
<line x1="1313.3" y1="1175.5" x2="1313.3" y2="1199.5" stroke="#808080" stroke-width="6" stroke-linecap="butt"/>
<line x1="1499" y1="1194" x2="1499" y2="1199.5" stroke="#808080" stroke-width="6" stroke-linecap="butt"/>
<line x1="524" y1="1338.6" x2="524" y2="1349" stroke="#808080" stroke-width="6" stroke-linecap="butt"/>
<line x1="708.5" y1="1210.8" x2="708.5" y2="1349" stroke="#808080" stroke-width="6" stroke-linecap="butt"/>
<line x1="755.3" y1="1293" x2="755.3" y2="1349" stroke="#808080" stroke-width="6" stroke-linecap="butt"/>
<line x1="777.5" y1="1344" x2="777.5" y2="1349" stroke="#808080" stroke-width="6" stroke-linecap="butt"/>
<line x1="806.6" y1="1266" x2="806.6" y2="1349" stroke="#808080" stroke-width="6" stroke-linecap="butt"/>
<line x1="821.8" y1="1300" x2="821.8" y2="1349" stroke="#808080" stroke-width="6" stroke-linecap="butt"/>
<line x1="1053.4" y1="1331" x2="1053.4" y2="1349" stroke="#808080" stroke-width="6" stroke-linecap="butt"/>
<line x1="1113.6" y1="1334.4" x2="1113.6" y2="1349" stroke="#808080" stroke-width="6" stroke-linecap="butt"/>
<line x1="1137" y1="1344" x2="1137" y2="1349" stroke="#808080" stroke-width="6" stroke-linecap="butt"/>
<line x1="1191" y1="1341" x2="1191" y2="1349" stroke="#808080" stroke-width="6" stroke-linecap="butt"/>
<line x1="1251.4" y1="1344" x2="1251.4" y2="1349" stroke="#808080" stroke-width="6" stroke-linecap="butt"/>
<line x1="1332.7" y1="1334.4" x2="1332.7" y2="1349" stroke="#808080" stroke-width="6" stroke-linecap="butt"/>
<line x1="1351.8" y1="1344" x2="1351.8" y2="1349" stroke="#808080" stroke-width="6" stroke-linecap="butt"/>
<line x1="1371.2" y1="1322.7" x2="1371.2" y2="1349" stroke="#808080" stroke-width="6" stroke-linecap="butt"/>
<line x1="1378" y1="1344" x2="1378" y2="1349" stroke="#808080" stroke-width="6" stroke-linecap="butt"/>
<line x1="1430.4" y1="1326" x2="1430.4" y2="1349" stroke="#808080" stroke-width="6" stroke-linecap="butt"/>
<line x1="1458.9" y1="1324.3" x2="1458.9" y2="1349" stroke="#808080" stroke-width="6" stroke-linecap="butt"/>
<line x1="1472.2" y1="1322.7" x2="1472.2" y2="1349" stroke="#808080" stroke-width="6" stroke-linecap="butt"/>
<line x1="1551.9" y1="1329.4" x2="1551.9" y2="1349" stroke="#808080" stroke-width="6" stroke-linecap="butt"/>
<line x1="1572.6" y1="1344" x2="1572.6" y2="1349" stroke="#808080" stroke-width="6" stroke-linecap="butt"/>
<line x1="608.8" y1="1463.4" x2="608.8" y2="1500" stroke="#808080" stroke-width="6" stroke-linecap="butt"/>
<line x1="671.1" y1="1436.5" x2="671.1" y2="1500" stroke="#808080" stroke-width="6" stroke-linecap="butt"/>
<line x1="740.8" y1="1442.8" x2="740.8" y2="1500" stroke="#808080" stroke-width="6" stroke-linecap="butt"/>
<line x1="895.1" y1="1368.4" x2="895.1" y2="1500" stroke="#808080" stroke-width="6" stroke-linecap="butt"/>
<line x1="993.2" y1="1360.7" x2="993.2" y2="1500" stroke="#808080" stroke-width="6" stroke-linecap="butt"/>
<line x1="1049" y1="1401.9" x2="1049" y2="1500" stroke="#808080" stroke-width="6" stroke-linecap="butt"/>
<line x1="1215.3" y1="1401.9" x2="1215.3" y2="1500" stroke="#808080" stroke-width="6" stroke-linecap="butt"/>
<line x1="1243" y1="1367.4" x2="1243" y2="1500" stroke="#808080" stroke-width="6" stroke-linecap="butt"/>
<line x1="1259.8" y1="1443.7" x2="1259.8" y2="1500" stroke="#808080" stroke-width="6" stroke-linecap="butt"/>
<line x1="1333.4" y1="1455.4" x2="1333.4" y2="1500" stroke="#808080" stroke-width="6" stroke-linecap="butt"/>
<line x1="1440.5" y1="1483.9" x2="1440.5" y2="1500" stroke="#808080" stroke-width="6" stroke-linecap="butt"/>
<line x1="1509" y1="1455.4" x2="1509" y2="1500" stroke="#808080" stroke-width="6" stroke-linecap="butt"/>
<line x1="1545.9" y1="1468.8" x2="1545.9" y2="1500" stroke="#808080" stroke-width="6" stroke-linecap="butt"/>
<line x1="182" y1="1199.5" x2="1585" y2="1199.5" stroke="#000" stroke-width="5"/>
<line x1="182" y1="1349.3" x2="1585" y2="1349.3" stroke="#000" stroke-width="5"/>
<rect x="182.0" y="32.0" width="1403.0" height="1468.3" fill="none" stroke="#000" stroke-width="6.5"/>
<rect x="1586" y="29" width="3" height="220" fill="#000"/>
<line x1="181.5" y1="1500.3" x2="181.5" y2="1523" stroke="#000" stroke-width="6"/>
<line x1="532" y1="1500.3" x2="532" y2="1523" stroke="#000" stroke-width="6"/>
<line x1="882.5" y1="1500.3" x2="882.5" y2="1523" stroke="#000" stroke-width="6"/>
<line x1="1233" y1="1500.3" x2="1233" y2="1523" stroke="#000" stroke-width="6"/>
<line x1="1583.5" y1="1500.3" x2="1583.5" y2="1523" stroke="#000" stroke-width="6"/>
<line x1="356.8" y1="1500.3" x2="356.8" y2="1513" stroke="#000" stroke-width="6"/>
<line x1="707.2" y1="1500.3" x2="707.2" y2="1513" stroke="#000" stroke-width="6"/>
<line x1="1057.8" y1="1500.3" x2="1057.8" y2="1513" stroke="#000" stroke-width="6"/>
<line x1="1408.2" y1="1500.3" x2="1408.2" y2="1513" stroke="#000" stroke-width="6"/>
<rect x="1693.0" y="33.5" width="616.5" height="1473.2" fill="none" stroke="#000" stroke-width="8"/>
<line x1="1693" y1="1506.7" x2="1693" y2="1519.5" stroke="#000" stroke-width="8"/>
<line x1="1770.5" y1="1506.7" x2="1770.5" y2="1528" stroke="#000" stroke-width="8"/>
<line x1="2002" y1="1506.7" x2="2002" y2="1528" stroke="#000" stroke-width="8"/>
<line x1="2233.5" y1="1506.7" x2="2233.5" y2="1528" stroke="#000" stroke-width="8"/>
<line x1="2309.5" y1="1506.7" x2="2309.5" y2="1519.5" stroke="#000" stroke-width="8"/>
<line x1="1886.2" y1="1506.7" x2="1886.2" y2="1517" stroke="#000" stroke-width="8"/>
<line x1="2117.7" y1="1506.7" x2="2117.7" y2="1517" stroke="#000" stroke-width="8"/>
<path d="M1693.4,252.1 L1718.7,252.1 L1756,255.1 L1799.2,252.1 L1832,252.1 L1861.7,247.7 L1906.4,231.3 L1936.2,214.9 L1966,185.1 L1998.8,158.3 L2019.6,152.3 L2031.5,153.8 L2076.2,182.1 L2117.9,206 L2156.6,217.9 L2201.3,229.8 L2222.2,234.3 L2263.9,246.2 L2305.6,259.6" fill="none" stroke="#ff0000" stroke-width="8" stroke-linejoin="round"/>
<path d="M1693.4,544.1 L1754.5,545.6 L1829,542.6 L1858.7,532.2 L1891.5,521.8 L1936.2,480 L1983.9,408.5 L2001.7,396.6 L2019.6,407 L2067.3,454.7 L2091.1,489 L2123.9,514.3 L2186.4,526.2 L2216.2,529.2 L2260.9,541.1 L2305.6,547.1" fill="none" stroke="#0096ff" stroke-width="8" stroke-linejoin="round"/>
<path d="M1693.4,794.5 L1739.6,796 L1784.3,794.5 L1846.8,788.5 L1900.4,767.7 L1915.3,757.2 L1942.1,730.4 L1969,705.1 L1980.9,699.2 L1995.8,700.6 L2022.6,718.5 L2058.3,743.8 L2082.2,763.2 L2114.9,779.6 L2153.6,788.5 L2186.4,793 L2225.1,797.5 L2260.9,800.4 L2305.6,803.4" fill="none" stroke="#2ee02e" stroke-width="8" stroke-linejoin="round"/>
<path d="M1693.4,1047.7 L1739.6,1050.7 L1784.3,1050.7 L1829,1049.2 L1882.6,1040.2 L1909.4,1031.3 L1936.2,1007.5 L1963,977.7 L1986.8,964.3 L2001.7,965.8 L2043.4,995.6 L2076.2,1016.4 L2109,1034.3 L2138.8,1034.3 L2171.5,1038.7 L2210.3,1043.2 L2246,1049.2 L2275.8,1055.1 L2305.6,1055.1" fill="none" stroke="#3c14ff" stroke-width="8" stroke-linejoin="round"/>
<path d="M1693.4,1278.7 L1739.6,1281.1 L1805.1,1282.6 L1864.7,1278.7 L1894.5,1273.6 L1933.2,1255.8 L1963,1236.4 L1986.8,1220 L2004.7,1219.1 L2028.5,1231.9 L2061.3,1248.3 L2103,1267.7 L2114.9,1270.6 L2141.7,1271.5 L2168.5,1275.7 L2216.2,1276.6 L2246,1283.5 L2305.6,1287.6" fill="none" stroke="#8000ff" stroke-width="8" stroke-linejoin="round"/>
<text transform="translate(148.67,1590.00) scale(0.9814,1.0488)" font-size="59" font-weight="bold" font-family="'Liberation Sans', Arial, sans-serif" fill="#000">10</text>
<text transform="translate(500.11,1590.00) scale(0.9814,1.0488)" font-size="59" font-weight="bold" font-family="'Liberation Sans', Arial, sans-serif" fill="#000">20</text>
<text transform="translate(850.61,1590.00) scale(0.9814,1.0488)" font-size="59" font-weight="bold" font-family="'Liberation Sans', Arial, sans-serif" fill="#000">30</text>
<text transform="translate(1201.60,1590.00) scale(0.9814,1.0488)" font-size="59" font-weight="bold" font-family="'Liberation Sans', Arial, sans-serif" fill="#000">40</text>
<text transform="translate(1551.61,1590.00) scale(0.9814,1.0488)" font-size="59" font-weight="bold" font-family="'Liberation Sans', Arial, sans-serif" fill="#000">50</text>
<text transform="translate(1704.16,1590.00) scale(1.0206,1.0565)" font-size="67" font-weight="bold" font-family="'Liberation Sans', Arial, sans-serif" fill="#000">30.3</text>
<text transform="translate(1935.66,1590.00) scale(1.0206,1.0565)" font-size="67" font-weight="bold" font-family="'Liberation Sans', Arial, sans-serif" fill="#000">30.6</text>
<text transform="translate(2167.16,1590.00) scale(1.0206,1.0565)" font-size="67" font-weight="bold" font-family="'Liberation Sans', Arial, sans-serif" fill="#000">30.9</text>
<text transform="translate(560.01,1686.11) scale(0.9983,0.9930)" font-size="76" font-weight="bold" font-family="'Liberation Sans', Arial, sans-serif" fill="#000">2 Theta (degree)</text>
<text transform="translate(1704.29,1689.78) scale(1.0028,1.0014)" font-size="75" font-weight="bold" font-family="'Liberation Sans', Arial, sans-serif" fill="#000">2 Theta (degree)</text>
<text transform="translate(95.03,1308.19) rotate(-90) scale(0.9989,1.0035)" font-size="91" font-weight="bold" font-family="'Liberation Sans', Arial, sans-serif" fill="#000">Relative intensity (a.u.)</text>
<text transform="translate(1438.56,240.90) scale(0.9190,1.0244)" font-size="59" font-weight="bold" font-family="'Liberation Sans', Arial, sans-serif" fill="#ff0000">S-0.8</text>
<text transform="translate(1438.13,385.90) scale(0.9350,0.9707)" font-size="59" font-weight="bold" font-family="'Liberation Sans', Arial, sans-serif" fill="#0096ff">S-0.5</text>
<text transform="translate(1438.56,530.10) scale(0.9190,1.0073)" font-size="59" font-weight="bold" font-family="'Liberation Sans', Arial, sans-serif" fill="#2ee02e">S-0.3</text>
<text transform="translate(1438.64,660.10) scale(0.8825,0.9707)" font-size="59" font-weight="bold" font-family="'Liberation Sans', Arial, sans-serif" fill="#3c14ff">S-0.1</text>
<text transform="translate(1484.17,815.40) scale(0.9172,0.9561)" font-size="59" font-weight="bold" font-family="'Liberation Sans', Arial, sans-serif" fill="#8000ff">S-0</text>
<text transform="translate(1019.55,952.81) scale(0.9770,0.9927)" font-size="56" font-weight="bold" font-family="'Liberation Sans', Arial, sans-serif" fill="#000">Cs<tspan font-size="37" dy="15">4</tspan><tspan dy="-15">SnBr</tspan><tspan font-size="37" dy="15">6</tspan><tspan dy="-15"> (simulated)</tspan></text>
<text transform="translate(1447.33,1109.80) scale(0.9845,1.0132)" font-size="55" font-weight="bold" font-family="'Liberation Sans', Arial, sans-serif" fill="#808080">CsBr</text>
<text transform="translate(1448.54,1274.55) scale(0.9803,1.0170)" font-size="55" font-weight="bold" font-family="'Liberation Sans', Arial, sans-serif" fill="#808080">SnF<tspan font-size="38" dy="15">2</tspan></text>
<text transform="translate(1423.59,1420.85) scale(1.0041,1.0094)" font-size="54" font-weight="bold" font-family="'Liberation Sans', Arial, sans-serif" fill="#808080">CeBr<tspan font-size="37" dy="15.5">3</tspan></text>
<text transform="translate(271.02,136.41) rotate(90) scale(1.0434,1.0245)" font-size="55" font-weight="normal" font-family="'Liberation Serif', 'Times New Roman', serif" fill="#484848"><tspan dy="-6">(</tspan><tspan dy="6">110</tspan><tspan dy="-6">)</tspan></text>
<text transform="translate(598.88,140.07) rotate(90) scale(1.0130,0.9755)" font-size="55" font-weight="normal" font-family="'Liberation Serif', 'Times New Roman', serif" fill="#484848"><tspan dy="-6">(</tspan><tspan dy="6">300</tspan><tspan dy="-6">)</tspan></text>
<text transform="translate(773.74,89.07) rotate(90) scale(1.0165,1.0082)" font-size="55" font-weight="normal" font-family="'Liberation Serif', 'Times New Roman', serif" fill="#484848"><tspan dy="-6">(</tspan><tspan dy="6">131</tspan><tspan dy="-6">)</tspan></text>
<text transform="translate(892.83,46.96) rotate(90) scale(1.0183,0.9857)" font-size="55" font-weight="normal" font-family="'Liberation Serif', 'Times New Roman', serif" fill="#484848"><tspan dy="-6">(</tspan><tspan dy="6">223</tspan><tspan dy="-6">)</tspan></text>
<text transform="translate(1198.27,143.47) rotate(90) scale(1.0157,1.0347)" font-size="55" font-weight="normal" font-family="'Liberation Serif', 'Times New Roman', serif" fill="#484848"><tspan dy="-6">(</tspan><tspan dy="6">330</tspan><tspan dy="-6">)</tspan></text>
</g>
</svg>
</body></html>
